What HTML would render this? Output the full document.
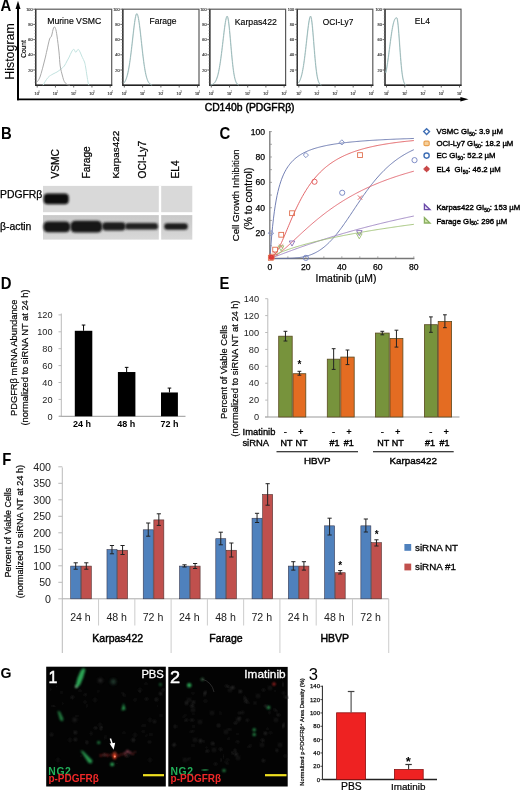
<!DOCTYPE html>
<html><head><meta charset="utf-8"><style>
html,body{margin:0;padding:0;background:#fff;width:520px;height:790px;overflow:hidden}
svg{display:block;filter:blur(0.3px);font-family:"Liberation Sans", sans-serif}
</style></head><body>
<svg width="520" height="790" viewBox="0 0 520 790">
<text transform="translate(0.5 10.8) scale(0.93 1)" font-size="16" font-weight="bold">A</text>
<line x1="18.00" y1="8.00" x2="18.00" y2="100.20" stroke="#000" stroke-width="2"/>
<polygon points="18.00,0.80 15.50,9.00 20.50,9.00" fill="#000"/>
<line x1="17.00" y1="99.30" x2="461.00" y2="99.30" stroke="#000" stroke-width="1.8"/>
<polygon points="468.50,99.30 460.40,97.00 460.40,101.60" fill="#000"/>
<text x="13.80" y="51.50" font-size="12.4" text-anchor="middle" fill="#000" transform="rotate(-90 13.8 51.5)" stroke="#000" stroke-width="0.1">Histogram</text>
<text x="25.80" y="49.00" font-size="6.6" text-anchor="middle" fill="#000" transform="rotate(-90 25.8 49)" stroke="#000" stroke-width="0.15">Count</text>
<rect x="35.70" y="9.20" width="76.00" height="76.10" fill="none" stroke="#5a5a5a" stroke-width="1.2"/>
<line x1="35.20" y1="85.30" x2="112.20" y2="85.30" stroke="#222" stroke-width="1.6"/>
<line x1="35.70" y1="9.20" x2="35.70" y2="85.30" stroke="#333" stroke-width="1.3"/>
<line x1="33.20" y1="9.20" x2="35.70" y2="9.20" stroke="#444" stroke-width="0.8"/>
<text x="32.50" y="10.70" font-size="3.8" text-anchor="end" fill="#333" stroke="#333" stroke-width="0.15">100</text>
<line x1="33.20" y1="24.40" x2="35.70" y2="24.40" stroke="#444" stroke-width="0.8"/>
<text x="32.50" y="25.90" font-size="3.8" text-anchor="end" fill="#333" stroke="#333" stroke-width="0.15">80</text>
<line x1="33.20" y1="39.60" x2="35.70" y2="39.60" stroke="#444" stroke-width="0.8"/>
<text x="32.50" y="41.10" font-size="3.8" text-anchor="end" fill="#333" stroke="#333" stroke-width="0.15">60</text>
<line x1="33.20" y1="54.80" x2="35.70" y2="54.80" stroke="#444" stroke-width="0.8"/>
<text x="32.50" y="56.30" font-size="3.8" text-anchor="end" fill="#333" stroke="#333" stroke-width="0.15">40</text>
<line x1="33.20" y1="70.00" x2="35.70" y2="70.00" stroke="#444" stroke-width="0.8"/>
<text x="32.50" y="71.50" font-size="3.8" text-anchor="end" fill="#333" stroke="#333" stroke-width="0.15">20</text>
<line x1="34.40" y1="9.20" x2="35.70" y2="9.20" stroke="#777" stroke-width="0.5"/>
<line x1="34.40" y1="12.24" x2="35.70" y2="12.24" stroke="#777" stroke-width="0.5"/>
<line x1="34.40" y1="15.28" x2="35.70" y2="15.28" stroke="#777" stroke-width="0.5"/>
<line x1="34.40" y1="18.32" x2="35.70" y2="18.32" stroke="#777" stroke-width="0.5"/>
<line x1="34.40" y1="21.36" x2="35.70" y2="21.36" stroke="#777" stroke-width="0.5"/>
<line x1="34.40" y1="24.40" x2="35.70" y2="24.40" stroke="#777" stroke-width="0.5"/>
<line x1="34.40" y1="27.44" x2="35.70" y2="27.44" stroke="#777" stroke-width="0.5"/>
<line x1="34.40" y1="30.48" x2="35.70" y2="30.48" stroke="#777" stroke-width="0.5"/>
<line x1="34.40" y1="33.52" x2="35.70" y2="33.52" stroke="#777" stroke-width="0.5"/>
<line x1="34.40" y1="36.56" x2="35.70" y2="36.56" stroke="#777" stroke-width="0.5"/>
<line x1="34.40" y1="39.60" x2="35.70" y2="39.60" stroke="#777" stroke-width="0.5"/>
<line x1="34.40" y1="42.64" x2="35.70" y2="42.64" stroke="#777" stroke-width="0.5"/>
<line x1="34.40" y1="45.68" x2="35.70" y2="45.68" stroke="#777" stroke-width="0.5"/>
<line x1="34.40" y1="48.72" x2="35.70" y2="48.72" stroke="#777" stroke-width="0.5"/>
<line x1="34.40" y1="51.76" x2="35.70" y2="51.76" stroke="#777" stroke-width="0.5"/>
<line x1="34.40" y1="54.80" x2="35.70" y2="54.80" stroke="#777" stroke-width="0.5"/>
<line x1="34.40" y1="57.84" x2="35.70" y2="57.84" stroke="#777" stroke-width="0.5"/>
<line x1="34.40" y1="60.88" x2="35.70" y2="60.88" stroke="#777" stroke-width="0.5"/>
<line x1="34.40" y1="63.92" x2="35.70" y2="63.92" stroke="#777" stroke-width="0.5"/>
<line x1="34.40" y1="66.96" x2="35.70" y2="66.96" stroke="#777" stroke-width="0.5"/>
<line x1="34.40" y1="70.00" x2="35.70" y2="70.00" stroke="#777" stroke-width="0.5"/>
<line x1="34.40" y1="73.04" x2="35.70" y2="73.04" stroke="#777" stroke-width="0.5"/>
<line x1="34.40" y1="76.08" x2="35.70" y2="76.08" stroke="#777" stroke-width="0.5"/>
<line x1="34.40" y1="79.12" x2="35.70" y2="79.12" stroke="#777" stroke-width="0.5"/>
<line x1="34.40" y1="82.16" x2="35.70" y2="82.16" stroke="#777" stroke-width="0.5"/>
<line x1="37.20" y1="85.30" x2="37.20" y2="87.50" stroke="#444" stroke-width="0.8"/>
<text x="36.70" y="94.80" font-size="3.8" text-anchor="middle" fill="#333" stroke="#333" stroke-width="0.15">10</text>
<text x="39.00" y="92.50" font-size="3.0" text-anchor="middle" fill="#444">0</text>
<line x1="55.45" y1="85.30" x2="55.45" y2="87.50" stroke="#444" stroke-width="0.8"/>
<text x="54.95" y="94.80" font-size="3.8" text-anchor="middle" fill="#333" stroke="#333" stroke-width="0.15">10</text>
<text x="57.25" y="92.50" font-size="3.0" text-anchor="middle" fill="#444">1</text>
<line x1="73.70" y1="85.30" x2="73.70" y2="87.50" stroke="#444" stroke-width="0.8"/>
<text x="73.20" y="94.80" font-size="3.8" text-anchor="middle" fill="#333" stroke="#333" stroke-width="0.15">10</text>
<text x="75.50" y="92.50" font-size="3.0" text-anchor="middle" fill="#444">2</text>
<line x1="91.95" y1="85.30" x2="91.95" y2="87.50" stroke="#444" stroke-width="0.8"/>
<text x="91.45" y="94.80" font-size="3.8" text-anchor="middle" fill="#333" stroke="#333" stroke-width="0.15">10</text>
<text x="93.75" y="92.50" font-size="3.0" text-anchor="middle" fill="#444">3</text>
<line x1="110.20" y1="85.30" x2="110.20" y2="87.50" stroke="#444" stroke-width="0.8"/>
<text x="109.70" y="94.80" font-size="3.8" text-anchor="middle" fill="#333" stroke="#333" stroke-width="0.15">10</text>
<text x="112.00" y="92.50" font-size="3.0" text-anchor="middle" fill="#444">4</text>
<rect x="122.80" y="9.20" width="76.20" height="76.10" fill="none" stroke="#5a5a5a" stroke-width="1.2"/>
<line x1="122.30" y1="85.30" x2="199.50" y2="85.30" stroke="#222" stroke-width="1.6"/>
<line x1="122.80" y1="9.20" x2="122.80" y2="85.30" stroke="#333" stroke-width="1.3"/>
<line x1="120.30" y1="9.20" x2="122.80" y2="9.20" stroke="#444" stroke-width="0.8"/>
<text x="119.60" y="10.70" font-size="3.8" text-anchor="end" fill="#333" stroke="#333" stroke-width="0.15">100</text>
<line x1="120.30" y1="24.40" x2="122.80" y2="24.40" stroke="#444" stroke-width="0.8"/>
<text x="119.60" y="25.90" font-size="3.8" text-anchor="end" fill="#333" stroke="#333" stroke-width="0.15">80</text>
<line x1="120.30" y1="39.60" x2="122.80" y2="39.60" stroke="#444" stroke-width="0.8"/>
<text x="119.60" y="41.10" font-size="3.8" text-anchor="end" fill="#333" stroke="#333" stroke-width="0.15">60</text>
<line x1="120.30" y1="54.80" x2="122.80" y2="54.80" stroke="#444" stroke-width="0.8"/>
<text x="119.60" y="56.30" font-size="3.8" text-anchor="end" fill="#333" stroke="#333" stroke-width="0.15">40</text>
<line x1="120.30" y1="70.00" x2="122.80" y2="70.00" stroke="#444" stroke-width="0.8"/>
<text x="119.60" y="71.50" font-size="3.8" text-anchor="end" fill="#333" stroke="#333" stroke-width="0.15">20</text>
<line x1="121.50" y1="9.20" x2="122.80" y2="9.20" stroke="#777" stroke-width="0.5"/>
<line x1="121.50" y1="12.24" x2="122.80" y2="12.24" stroke="#777" stroke-width="0.5"/>
<line x1="121.50" y1="15.28" x2="122.80" y2="15.28" stroke="#777" stroke-width="0.5"/>
<line x1="121.50" y1="18.32" x2="122.80" y2="18.32" stroke="#777" stroke-width="0.5"/>
<line x1="121.50" y1="21.36" x2="122.80" y2="21.36" stroke="#777" stroke-width="0.5"/>
<line x1="121.50" y1="24.40" x2="122.80" y2="24.40" stroke="#777" stroke-width="0.5"/>
<line x1="121.50" y1="27.44" x2="122.80" y2="27.44" stroke="#777" stroke-width="0.5"/>
<line x1="121.50" y1="30.48" x2="122.80" y2="30.48" stroke="#777" stroke-width="0.5"/>
<line x1="121.50" y1="33.52" x2="122.80" y2="33.52" stroke="#777" stroke-width="0.5"/>
<line x1="121.50" y1="36.56" x2="122.80" y2="36.56" stroke="#777" stroke-width="0.5"/>
<line x1="121.50" y1="39.60" x2="122.80" y2="39.60" stroke="#777" stroke-width="0.5"/>
<line x1="121.50" y1="42.64" x2="122.80" y2="42.64" stroke="#777" stroke-width="0.5"/>
<line x1="121.50" y1="45.68" x2="122.80" y2="45.68" stroke="#777" stroke-width="0.5"/>
<line x1="121.50" y1="48.72" x2="122.80" y2="48.72" stroke="#777" stroke-width="0.5"/>
<line x1="121.50" y1="51.76" x2="122.80" y2="51.76" stroke="#777" stroke-width="0.5"/>
<line x1="121.50" y1="54.80" x2="122.80" y2="54.80" stroke="#777" stroke-width="0.5"/>
<line x1="121.50" y1="57.84" x2="122.80" y2="57.84" stroke="#777" stroke-width="0.5"/>
<line x1="121.50" y1="60.88" x2="122.80" y2="60.88" stroke="#777" stroke-width="0.5"/>
<line x1="121.50" y1="63.92" x2="122.80" y2="63.92" stroke="#777" stroke-width="0.5"/>
<line x1="121.50" y1="66.96" x2="122.80" y2="66.96" stroke="#777" stroke-width="0.5"/>
<line x1="121.50" y1="70.00" x2="122.80" y2="70.00" stroke="#777" stroke-width="0.5"/>
<line x1="121.50" y1="73.04" x2="122.80" y2="73.04" stroke="#777" stroke-width="0.5"/>
<line x1="121.50" y1="76.08" x2="122.80" y2="76.08" stroke="#777" stroke-width="0.5"/>
<line x1="121.50" y1="79.12" x2="122.80" y2="79.12" stroke="#777" stroke-width="0.5"/>
<line x1="121.50" y1="82.16" x2="122.80" y2="82.16" stroke="#777" stroke-width="0.5"/>
<line x1="124.30" y1="85.30" x2="124.30" y2="87.50" stroke="#444" stroke-width="0.8"/>
<text x="123.80" y="94.80" font-size="3.8" text-anchor="middle" fill="#333" stroke="#333" stroke-width="0.15">10</text>
<text x="126.10" y="92.50" font-size="3.0" text-anchor="middle" fill="#444">0</text>
<line x1="142.60" y1="85.30" x2="142.60" y2="87.50" stroke="#444" stroke-width="0.8"/>
<text x="142.10" y="94.80" font-size="3.8" text-anchor="middle" fill="#333" stroke="#333" stroke-width="0.15">10</text>
<text x="144.40" y="92.50" font-size="3.0" text-anchor="middle" fill="#444">1</text>
<line x1="160.90" y1="85.30" x2="160.90" y2="87.50" stroke="#444" stroke-width="0.8"/>
<text x="160.40" y="94.80" font-size="3.8" text-anchor="middle" fill="#333" stroke="#333" stroke-width="0.15">10</text>
<text x="162.70" y="92.50" font-size="3.0" text-anchor="middle" fill="#444">2</text>
<line x1="179.20" y1="85.30" x2="179.20" y2="87.50" stroke="#444" stroke-width="0.8"/>
<text x="178.70" y="94.80" font-size="3.8" text-anchor="middle" fill="#333" stroke="#333" stroke-width="0.15">10</text>
<text x="181.00" y="92.50" font-size="3.0" text-anchor="middle" fill="#444">3</text>
<line x1="197.50" y1="85.30" x2="197.50" y2="87.50" stroke="#444" stroke-width="0.8"/>
<text x="197.00" y="94.80" font-size="3.8" text-anchor="middle" fill="#333" stroke="#333" stroke-width="0.15">10</text>
<text x="199.30" y="92.50" font-size="3.0" text-anchor="middle" fill="#444">4</text>
<rect x="209.80" y="9.20" width="75.80" height="76.10" fill="none" stroke="#5a5a5a" stroke-width="1.2"/>
<line x1="209.30" y1="85.30" x2="286.10" y2="85.30" stroke="#222" stroke-width="1.6"/>
<line x1="209.80" y1="9.20" x2="209.80" y2="85.30" stroke="#333" stroke-width="1.3"/>
<line x1="207.30" y1="9.20" x2="209.80" y2="9.20" stroke="#444" stroke-width="0.8"/>
<text x="206.60" y="10.70" font-size="3.8" text-anchor="end" fill="#333" stroke="#333" stroke-width="0.15">100</text>
<line x1="207.30" y1="24.40" x2="209.80" y2="24.40" stroke="#444" stroke-width="0.8"/>
<text x="206.60" y="25.90" font-size="3.8" text-anchor="end" fill="#333" stroke="#333" stroke-width="0.15">80</text>
<line x1="207.30" y1="39.60" x2="209.80" y2="39.60" stroke="#444" stroke-width="0.8"/>
<text x="206.60" y="41.10" font-size="3.8" text-anchor="end" fill="#333" stroke="#333" stroke-width="0.15">60</text>
<line x1="207.30" y1="54.80" x2="209.80" y2="54.80" stroke="#444" stroke-width="0.8"/>
<text x="206.60" y="56.30" font-size="3.8" text-anchor="end" fill="#333" stroke="#333" stroke-width="0.15">40</text>
<line x1="207.30" y1="70.00" x2="209.80" y2="70.00" stroke="#444" stroke-width="0.8"/>
<text x="206.60" y="71.50" font-size="3.8" text-anchor="end" fill="#333" stroke="#333" stroke-width="0.15">20</text>
<line x1="208.50" y1="9.20" x2="209.80" y2="9.20" stroke="#777" stroke-width="0.5"/>
<line x1="208.50" y1="12.24" x2="209.80" y2="12.24" stroke="#777" stroke-width="0.5"/>
<line x1="208.50" y1="15.28" x2="209.80" y2="15.28" stroke="#777" stroke-width="0.5"/>
<line x1="208.50" y1="18.32" x2="209.80" y2="18.32" stroke="#777" stroke-width="0.5"/>
<line x1="208.50" y1="21.36" x2="209.80" y2="21.36" stroke="#777" stroke-width="0.5"/>
<line x1="208.50" y1="24.40" x2="209.80" y2="24.40" stroke="#777" stroke-width="0.5"/>
<line x1="208.50" y1="27.44" x2="209.80" y2="27.44" stroke="#777" stroke-width="0.5"/>
<line x1="208.50" y1="30.48" x2="209.80" y2="30.48" stroke="#777" stroke-width="0.5"/>
<line x1="208.50" y1="33.52" x2="209.80" y2="33.52" stroke="#777" stroke-width="0.5"/>
<line x1="208.50" y1="36.56" x2="209.80" y2="36.56" stroke="#777" stroke-width="0.5"/>
<line x1="208.50" y1="39.60" x2="209.80" y2="39.60" stroke="#777" stroke-width="0.5"/>
<line x1="208.50" y1="42.64" x2="209.80" y2="42.64" stroke="#777" stroke-width="0.5"/>
<line x1="208.50" y1="45.68" x2="209.80" y2="45.68" stroke="#777" stroke-width="0.5"/>
<line x1="208.50" y1="48.72" x2="209.80" y2="48.72" stroke="#777" stroke-width="0.5"/>
<line x1="208.50" y1="51.76" x2="209.80" y2="51.76" stroke="#777" stroke-width="0.5"/>
<line x1="208.50" y1="54.80" x2="209.80" y2="54.80" stroke="#777" stroke-width="0.5"/>
<line x1="208.50" y1="57.84" x2="209.80" y2="57.84" stroke="#777" stroke-width="0.5"/>
<line x1="208.50" y1="60.88" x2="209.80" y2="60.88" stroke="#777" stroke-width="0.5"/>
<line x1="208.50" y1="63.92" x2="209.80" y2="63.92" stroke="#777" stroke-width="0.5"/>
<line x1="208.50" y1="66.96" x2="209.80" y2="66.96" stroke="#777" stroke-width="0.5"/>
<line x1="208.50" y1="70.00" x2="209.80" y2="70.00" stroke="#777" stroke-width="0.5"/>
<line x1="208.50" y1="73.04" x2="209.80" y2="73.04" stroke="#777" stroke-width="0.5"/>
<line x1="208.50" y1="76.08" x2="209.80" y2="76.08" stroke="#777" stroke-width="0.5"/>
<line x1="208.50" y1="79.12" x2="209.80" y2="79.12" stroke="#777" stroke-width="0.5"/>
<line x1="208.50" y1="82.16" x2="209.80" y2="82.16" stroke="#777" stroke-width="0.5"/>
<line x1="211.30" y1="85.30" x2="211.30" y2="87.50" stroke="#444" stroke-width="0.8"/>
<text x="210.80" y="94.80" font-size="3.8" text-anchor="middle" fill="#333" stroke="#333" stroke-width="0.15">10</text>
<text x="213.10" y="92.50" font-size="3.0" text-anchor="middle" fill="#444">0</text>
<line x1="229.50" y1="85.30" x2="229.50" y2="87.50" stroke="#444" stroke-width="0.8"/>
<text x="229.00" y="94.80" font-size="3.8" text-anchor="middle" fill="#333" stroke="#333" stroke-width="0.15">10</text>
<text x="231.30" y="92.50" font-size="3.0" text-anchor="middle" fill="#444">1</text>
<line x1="247.70" y1="85.30" x2="247.70" y2="87.50" stroke="#444" stroke-width="0.8"/>
<text x="247.20" y="94.80" font-size="3.8" text-anchor="middle" fill="#333" stroke="#333" stroke-width="0.15">10</text>
<text x="249.50" y="92.50" font-size="3.0" text-anchor="middle" fill="#444">2</text>
<line x1="265.90" y1="85.30" x2="265.90" y2="87.50" stroke="#444" stroke-width="0.8"/>
<text x="265.40" y="94.80" font-size="3.8" text-anchor="middle" fill="#333" stroke="#333" stroke-width="0.15">10</text>
<text x="267.70" y="92.50" font-size="3.0" text-anchor="middle" fill="#444">3</text>
<line x1="284.10" y1="85.30" x2="284.10" y2="87.50" stroke="#444" stroke-width="0.8"/>
<text x="283.60" y="94.80" font-size="3.8" text-anchor="middle" fill="#333" stroke="#333" stroke-width="0.15">10</text>
<text x="285.90" y="92.50" font-size="3.0" text-anchor="middle" fill="#444">4</text>
<rect x="297.30" y="9.20" width="75.50" height="76.10" fill="none" stroke="#5a5a5a" stroke-width="1.2"/>
<line x1="296.80" y1="85.30" x2="373.30" y2="85.30" stroke="#222" stroke-width="1.6"/>
<line x1="297.30" y1="9.20" x2="297.30" y2="85.30" stroke="#333" stroke-width="1.3"/>
<line x1="294.80" y1="9.20" x2="297.30" y2="9.20" stroke="#444" stroke-width="0.8"/>
<text x="294.10" y="10.70" font-size="3.8" text-anchor="end" fill="#333" stroke="#333" stroke-width="0.15">100</text>
<line x1="294.80" y1="24.40" x2="297.30" y2="24.40" stroke="#444" stroke-width="0.8"/>
<text x="294.10" y="25.90" font-size="3.8" text-anchor="end" fill="#333" stroke="#333" stroke-width="0.15">80</text>
<line x1="294.80" y1="39.60" x2="297.30" y2="39.60" stroke="#444" stroke-width="0.8"/>
<text x="294.10" y="41.10" font-size="3.8" text-anchor="end" fill="#333" stroke="#333" stroke-width="0.15">60</text>
<line x1="294.80" y1="54.80" x2="297.30" y2="54.80" stroke="#444" stroke-width="0.8"/>
<text x="294.10" y="56.30" font-size="3.8" text-anchor="end" fill="#333" stroke="#333" stroke-width="0.15">40</text>
<line x1="294.80" y1="70.00" x2="297.30" y2="70.00" stroke="#444" stroke-width="0.8"/>
<text x="294.10" y="71.50" font-size="3.8" text-anchor="end" fill="#333" stroke="#333" stroke-width="0.15">20</text>
<line x1="296.00" y1="9.20" x2="297.30" y2="9.20" stroke="#777" stroke-width="0.5"/>
<line x1="296.00" y1="12.24" x2="297.30" y2="12.24" stroke="#777" stroke-width="0.5"/>
<line x1="296.00" y1="15.28" x2="297.30" y2="15.28" stroke="#777" stroke-width="0.5"/>
<line x1="296.00" y1="18.32" x2="297.30" y2="18.32" stroke="#777" stroke-width="0.5"/>
<line x1="296.00" y1="21.36" x2="297.30" y2="21.36" stroke="#777" stroke-width="0.5"/>
<line x1="296.00" y1="24.40" x2="297.30" y2="24.40" stroke="#777" stroke-width="0.5"/>
<line x1="296.00" y1="27.44" x2="297.30" y2="27.44" stroke="#777" stroke-width="0.5"/>
<line x1="296.00" y1="30.48" x2="297.30" y2="30.48" stroke="#777" stroke-width="0.5"/>
<line x1="296.00" y1="33.52" x2="297.30" y2="33.52" stroke="#777" stroke-width="0.5"/>
<line x1="296.00" y1="36.56" x2="297.30" y2="36.56" stroke="#777" stroke-width="0.5"/>
<line x1="296.00" y1="39.60" x2="297.30" y2="39.60" stroke="#777" stroke-width="0.5"/>
<line x1="296.00" y1="42.64" x2="297.30" y2="42.64" stroke="#777" stroke-width="0.5"/>
<line x1="296.00" y1="45.68" x2="297.30" y2="45.68" stroke="#777" stroke-width="0.5"/>
<line x1="296.00" y1="48.72" x2="297.30" y2="48.72" stroke="#777" stroke-width="0.5"/>
<line x1="296.00" y1="51.76" x2="297.30" y2="51.76" stroke="#777" stroke-width="0.5"/>
<line x1="296.00" y1="54.80" x2="297.30" y2="54.80" stroke="#777" stroke-width="0.5"/>
<line x1="296.00" y1="57.84" x2="297.30" y2="57.84" stroke="#777" stroke-width="0.5"/>
<line x1="296.00" y1="60.88" x2="297.30" y2="60.88" stroke="#777" stroke-width="0.5"/>
<line x1="296.00" y1="63.92" x2="297.30" y2="63.92" stroke="#777" stroke-width="0.5"/>
<line x1="296.00" y1="66.96" x2="297.30" y2="66.96" stroke="#777" stroke-width="0.5"/>
<line x1="296.00" y1="70.00" x2="297.30" y2="70.00" stroke="#777" stroke-width="0.5"/>
<line x1="296.00" y1="73.04" x2="297.30" y2="73.04" stroke="#777" stroke-width="0.5"/>
<line x1="296.00" y1="76.08" x2="297.30" y2="76.08" stroke="#777" stroke-width="0.5"/>
<line x1="296.00" y1="79.12" x2="297.30" y2="79.12" stroke="#777" stroke-width="0.5"/>
<line x1="296.00" y1="82.16" x2="297.30" y2="82.16" stroke="#777" stroke-width="0.5"/>
<line x1="298.80" y1="85.30" x2="298.80" y2="87.50" stroke="#444" stroke-width="0.8"/>
<text x="298.30" y="94.80" font-size="3.8" text-anchor="middle" fill="#333" stroke="#333" stroke-width="0.15">10</text>
<text x="300.60" y="92.50" font-size="3.0" text-anchor="middle" fill="#444">0</text>
<line x1="316.93" y1="85.30" x2="316.93" y2="87.50" stroke="#444" stroke-width="0.8"/>
<text x="316.43" y="94.80" font-size="3.8" text-anchor="middle" fill="#333" stroke="#333" stroke-width="0.15">10</text>
<text x="318.73" y="92.50" font-size="3.0" text-anchor="middle" fill="#444">1</text>
<line x1="335.05" y1="85.30" x2="335.05" y2="87.50" stroke="#444" stroke-width="0.8"/>
<text x="334.55" y="94.80" font-size="3.8" text-anchor="middle" fill="#333" stroke="#333" stroke-width="0.15">10</text>
<text x="336.85" y="92.50" font-size="3.0" text-anchor="middle" fill="#444">2</text>
<line x1="353.18" y1="85.30" x2="353.18" y2="87.50" stroke="#444" stroke-width="0.8"/>
<text x="352.68" y="94.80" font-size="3.8" text-anchor="middle" fill="#333" stroke="#333" stroke-width="0.15">10</text>
<text x="354.98" y="92.50" font-size="3.0" text-anchor="middle" fill="#444">3</text>
<line x1="371.30" y1="85.30" x2="371.30" y2="87.50" stroke="#444" stroke-width="0.8"/>
<text x="370.80" y="94.80" font-size="3.8" text-anchor="middle" fill="#333" stroke="#333" stroke-width="0.15">10</text>
<text x="373.10" y="92.50" font-size="3.0" text-anchor="middle" fill="#444">4</text>
<rect x="385.00" y="9.20" width="76.00" height="76.10" fill="none" stroke="#5a5a5a" stroke-width="1.2"/>
<line x1="384.50" y1="85.30" x2="461.50" y2="85.30" stroke="#222" stroke-width="1.6"/>
<line x1="385.00" y1="9.20" x2="385.00" y2="85.30" stroke="#333" stroke-width="1.3"/>
<line x1="382.50" y1="9.20" x2="385.00" y2="9.20" stroke="#444" stroke-width="0.8"/>
<text x="381.80" y="10.70" font-size="3.8" text-anchor="end" fill="#333" stroke="#333" stroke-width="0.15">100</text>
<line x1="382.50" y1="24.40" x2="385.00" y2="24.40" stroke="#444" stroke-width="0.8"/>
<text x="381.80" y="25.90" font-size="3.8" text-anchor="end" fill="#333" stroke="#333" stroke-width="0.15">80</text>
<line x1="382.50" y1="39.60" x2="385.00" y2="39.60" stroke="#444" stroke-width="0.8"/>
<text x="381.80" y="41.10" font-size="3.8" text-anchor="end" fill="#333" stroke="#333" stroke-width="0.15">60</text>
<line x1="382.50" y1="54.80" x2="385.00" y2="54.80" stroke="#444" stroke-width="0.8"/>
<text x="381.80" y="56.30" font-size="3.8" text-anchor="end" fill="#333" stroke="#333" stroke-width="0.15">40</text>
<line x1="382.50" y1="70.00" x2="385.00" y2="70.00" stroke="#444" stroke-width="0.8"/>
<text x="381.80" y="71.50" font-size="3.8" text-anchor="end" fill="#333" stroke="#333" stroke-width="0.15">20</text>
<line x1="383.70" y1="9.20" x2="385.00" y2="9.20" stroke="#777" stroke-width="0.5"/>
<line x1="383.70" y1="12.24" x2="385.00" y2="12.24" stroke="#777" stroke-width="0.5"/>
<line x1="383.70" y1="15.28" x2="385.00" y2="15.28" stroke="#777" stroke-width="0.5"/>
<line x1="383.70" y1="18.32" x2="385.00" y2="18.32" stroke="#777" stroke-width="0.5"/>
<line x1="383.70" y1="21.36" x2="385.00" y2="21.36" stroke="#777" stroke-width="0.5"/>
<line x1="383.70" y1="24.40" x2="385.00" y2="24.40" stroke="#777" stroke-width="0.5"/>
<line x1="383.70" y1="27.44" x2="385.00" y2="27.44" stroke="#777" stroke-width="0.5"/>
<line x1="383.70" y1="30.48" x2="385.00" y2="30.48" stroke="#777" stroke-width="0.5"/>
<line x1="383.70" y1="33.52" x2="385.00" y2="33.52" stroke="#777" stroke-width="0.5"/>
<line x1="383.70" y1="36.56" x2="385.00" y2="36.56" stroke="#777" stroke-width="0.5"/>
<line x1="383.70" y1="39.60" x2="385.00" y2="39.60" stroke="#777" stroke-width="0.5"/>
<line x1="383.70" y1="42.64" x2="385.00" y2="42.64" stroke="#777" stroke-width="0.5"/>
<line x1="383.70" y1="45.68" x2="385.00" y2="45.68" stroke="#777" stroke-width="0.5"/>
<line x1="383.70" y1="48.72" x2="385.00" y2="48.72" stroke="#777" stroke-width="0.5"/>
<line x1="383.70" y1="51.76" x2="385.00" y2="51.76" stroke="#777" stroke-width="0.5"/>
<line x1="383.70" y1="54.80" x2="385.00" y2="54.80" stroke="#777" stroke-width="0.5"/>
<line x1="383.70" y1="57.84" x2="385.00" y2="57.84" stroke="#777" stroke-width="0.5"/>
<line x1="383.70" y1="60.88" x2="385.00" y2="60.88" stroke="#777" stroke-width="0.5"/>
<line x1="383.70" y1="63.92" x2="385.00" y2="63.92" stroke="#777" stroke-width="0.5"/>
<line x1="383.70" y1="66.96" x2="385.00" y2="66.96" stroke="#777" stroke-width="0.5"/>
<line x1="383.70" y1="70.00" x2="385.00" y2="70.00" stroke="#777" stroke-width="0.5"/>
<line x1="383.70" y1="73.04" x2="385.00" y2="73.04" stroke="#777" stroke-width="0.5"/>
<line x1="383.70" y1="76.08" x2="385.00" y2="76.08" stroke="#777" stroke-width="0.5"/>
<line x1="383.70" y1="79.12" x2="385.00" y2="79.12" stroke="#777" stroke-width="0.5"/>
<line x1="383.70" y1="82.16" x2="385.00" y2="82.16" stroke="#777" stroke-width="0.5"/>
<line x1="386.50" y1="85.30" x2="386.50" y2="87.50" stroke="#444" stroke-width="0.8"/>
<text x="386.00" y="94.80" font-size="3.8" text-anchor="middle" fill="#333" stroke="#333" stroke-width="0.15">10</text>
<text x="388.30" y="92.50" font-size="3.0" text-anchor="middle" fill="#444">0</text>
<line x1="404.75" y1="85.30" x2="404.75" y2="87.50" stroke="#444" stroke-width="0.8"/>
<text x="404.25" y="94.80" font-size="3.8" text-anchor="middle" fill="#333" stroke="#333" stroke-width="0.15">10</text>
<text x="406.55" y="92.50" font-size="3.0" text-anchor="middle" fill="#444">1</text>
<line x1="423.00" y1="85.30" x2="423.00" y2="87.50" stroke="#444" stroke-width="0.8"/>
<text x="422.50" y="94.80" font-size="3.8" text-anchor="middle" fill="#333" stroke="#333" stroke-width="0.15">10</text>
<text x="424.80" y="92.50" font-size="3.0" text-anchor="middle" fill="#444">2</text>
<line x1="441.25" y1="85.30" x2="441.25" y2="87.50" stroke="#444" stroke-width="0.8"/>
<text x="440.75" y="94.80" font-size="3.8" text-anchor="middle" fill="#333" stroke="#333" stroke-width="0.15">10</text>
<text x="443.05" y="92.50" font-size="3.0" text-anchor="middle" fill="#444">3</text>
<line x1="459.50" y1="85.30" x2="459.50" y2="87.50" stroke="#444" stroke-width="0.8"/>
<text x="459.00" y="94.80" font-size="3.8" text-anchor="middle" fill="#333" stroke="#333" stroke-width="0.15">10</text>
<text x="461.30" y="92.50" font-size="3.0" text-anchor="middle" fill="#444">4</text>
<text x="74.20" y="24.20" font-size="8.7" text-anchor="middle" fill="#000" stroke="#000" stroke-width="0.15">Murine VSMC</text>
<text x="163.00" y="24.40" font-size="8.5" text-anchor="middle" fill="#000" stroke="#000" stroke-width="0.15">Farage</text>
<text x="255.80" y="24.60" font-size="8.7" text-anchor="middle" fill="#000" stroke="#000" stroke-width="0.15">Karpas422</text>
<text x="338.10" y="24.60" font-size="8.3" text-anchor="middle" fill="#000" stroke="#000" stroke-width="0.15">OCI-Ly7</text>
<text x="422.30" y="24.40" font-size="8.5" text-anchor="middle" fill="#000" stroke="#000" stroke-width="0.15">EL4</text>
<text x="249.60" y="110.80" font-size="10.35" text-anchor="middle" fill="#000" stroke="#000" stroke-width="0.45">CD140b (PDGFR&#946;)</text>
<path d="M43.00,85.20 C43.83,83.92 46.33,79.37 48.00,77.50 C49.67,75.63 51.50,74.92 53.00,74.00 C54.50,73.08 55.67,72.83 57.00,72.00 C58.33,71.17 59.78,70.00 61.00,69.00 C62.22,68.00 63.30,67.33 64.30,66.00 C65.30,64.67 66.18,62.50 67.00,61.00 C67.82,59.50 68.45,58.50 69.20,57.00 C69.95,55.50 70.73,53.30 71.50,52.00 C72.27,50.70 73.08,49.13 73.80,49.20 C74.52,49.27 75.07,52.38 75.80,52.40 C76.53,52.42 77.42,49.20 78.20,49.30 C78.98,49.40 79.82,51.67 80.50,53.00 C81.18,54.33 81.63,55.80 82.30,57.30 C82.97,58.80 83.95,60.38 84.50,62.00 C85.05,63.62 85.18,64.67 85.60,67.00 C86.02,69.33 86.60,73.50 87.00,76.00 C87.40,78.50 87.70,80.47 88.00,82.00 C88.30,83.53 88.67,84.67 88.80,85.20" fill="none" stroke="#c2e2df" stroke-width="1.0" stroke-linejoin="round"/>
<path d="M36.50,82.50 C37.08,81.58 38.63,80.75 40.00,77.00 C41.37,73.25 43.53,64.50 44.70,60.00 C45.87,55.50 46.18,53.50 47.00,50.00 C47.82,46.50 48.85,41.33 49.60,39.00 C50.35,36.67 50.82,37.92 51.50,36.00 C52.18,34.08 53.03,28.75 53.70,27.50 C54.37,26.25 54.95,27.08 55.50,28.50 C56.05,29.92 56.42,32.08 57.00,36.00 C57.58,39.92 58.47,47.00 59.00,52.00 C59.53,57.00 59.62,62.00 60.20,66.00 C60.78,70.00 61.82,73.42 62.50,76.00 C63.18,78.58 63.55,80.08 64.30,81.50 C65.05,82.92 66.05,83.88 67.00,84.50 C67.95,85.12 69.50,85.08 70.00,85.20" fill="none" stroke="#a0a0a0" stroke-width="0.9" stroke-linejoin="round"/>
<polyline points="123.65,83.12 124.00,82.72 124.35,82.26 124.70,81.73 125.05,81.12 125.40,80.43 125.75,79.64 126.10,78.76 126.45,77.76 126.80,76.65 127.15,75.41 127.50,74.04 127.85,72.52 128.20,70.86 128.55,69.05 128.90,67.09 129.25,64.97 129.60,62.70 129.95,60.28 130.30,57.72 130.65,55.02 131.00,52.21 131.35,49.28 131.70,46.27 132.05,43.20 132.40,40.09 132.75,36.98 133.10,33.89 133.45,30.86 133.80,27.93 134.15,25.15 134.50,22.56 134.85,20.20 135.20,18.12 135.55,16.36 135.90,15.00 136.25,14.07 136.60,13.70 136.95,13.90 137.30,14.49 137.65,15.46 138.00,16.81 138.35,18.50 138.70,20.50 139.05,22.80 139.40,25.34 139.75,28.10 140.10,31.04 140.45,34.11 140.80,37.27 141.15,40.49 141.50,43.72 141.85,46.93 142.20,50.09 142.55,53.17 142.90,56.14 143.25,58.99 143.60,61.68 143.95,64.22 144.30,66.59 144.65,68.78 145.00,70.80 145.35,72.64 145.70,74.31 146.05,75.81 146.40,77.16 146.75,78.35 147.10,79.40 147.45,80.31 147.80,81.11 148.15,81.80 148.50,82.40 148.85,82.90 149.20,83.33 149.55,83.69 149.90,83.99 150.25,84.24 150.60,84.45 150.95,84.62 151.30,84.76 151.65,84.88 152.00,84.97" fill="none" stroke="#a6cccc" stroke-width="1.0" stroke-linejoin="round"/>
<polyline points="123.95,83.12 124.30,82.72 124.65,82.26 125.00,81.73 125.35,81.12 125.70,80.43 126.05,79.64 126.40,78.76 126.75,77.76 127.10,76.65 127.45,75.41 127.80,74.04 128.15,72.52 128.50,70.86 128.85,69.05 129.20,67.09 129.55,64.97 129.90,62.70 130.25,60.28 130.60,57.72 130.95,55.02 131.30,52.21 131.65,49.28 132.00,46.27 132.35,43.20 132.70,40.09 133.05,36.98 133.40,33.89 133.75,30.86 134.10,27.93 134.45,25.15 134.80,22.56 135.15,20.20 135.50,18.12 135.85,16.36 136.20,15.00 136.55,14.07 136.90,13.70 137.25,13.90 137.60,14.49 137.95,15.46 138.30,16.81 138.65,18.50 139.00,20.50 139.35,22.80 139.70,25.34 140.05,28.10 140.40,31.04 140.75,34.11 141.10,37.27 141.45,40.49 141.80,43.72 142.15,46.93 142.50,50.09 142.85,53.17 143.20,56.14 143.55,58.99 143.90,61.68 144.25,64.22 144.60,66.59 144.95,68.78 145.30,70.80 145.65,72.64 146.00,74.31 146.35,75.81 146.70,77.16 147.05,78.35 147.40,79.40 147.75,80.31 148.10,81.11 148.45,81.80 148.80,82.40 149.15,82.90 149.50,83.33 149.85,83.69 150.20,83.99 150.55,84.24 150.90,84.45 151.25,84.62 151.60,84.76 151.95,84.88 152.30,84.97" fill="none" stroke="#8a9a9a" stroke-width="0.6" stroke-linejoin="round" opacity="0.7"/>
<polyline points="210.55,84.98 210.90,84.91 211.25,84.82 211.60,84.71 211.95,84.59 212.30,84.44 212.65,84.26 213.00,84.05 213.35,83.81 213.70,83.52 214.05,83.19 214.40,82.81 214.75,82.36 215.10,81.85 215.45,81.27 215.80,80.60 216.15,79.84 216.50,78.99 216.85,78.02 217.20,76.95 217.55,75.75 217.90,74.43 218.25,72.97 218.60,71.37 218.95,69.62 219.30,67.73 219.65,65.68 220.00,63.49 220.35,61.16 220.70,58.68 221.05,56.08 221.40,53.36 221.75,50.54 222.10,47.64 222.45,44.67 222.80,41.67 223.15,38.66 223.50,35.68 223.85,32.76 224.20,29.94 224.55,27.25 224.90,24.75 225.25,22.47 225.60,20.46 225.95,18.77 226.30,17.45 226.65,16.56 227.00,16.20 227.35,16.53 227.70,17.49 228.05,19.08 228.40,21.23 228.75,23.90 229.10,27.01 229.45,30.48 229.80,34.24 230.15,38.18 230.50,42.22 230.85,46.29 231.20,50.31 231.55,54.21 231.90,57.94 232.25,61.44 232.60,64.69 232.95,67.67 233.30,70.36 233.65,72.75 234.00,74.87 234.35,76.70 234.70,78.28 235.05,79.63 235.40,80.76 235.75,81.70 236.10,82.47 236.45,83.10 236.80,83.60 237.15,84.00 237.50,84.32 237.85,84.56 238.20,84.75 238.55,84.90" fill="none" stroke="#a6cccc" stroke-width="1.0" stroke-linejoin="round"/>
<polyline points="210.85,84.98 211.20,84.91 211.55,84.82 211.90,84.71 212.25,84.59 212.60,84.44 212.95,84.26 213.30,84.05 213.65,83.81 214.00,83.52 214.35,83.19 214.70,82.81 215.05,82.36 215.40,81.85 215.75,81.27 216.10,80.60 216.45,79.84 216.80,78.99 217.15,78.02 217.50,76.95 217.85,75.75 218.20,74.43 218.55,72.97 218.90,71.37 219.25,69.62 219.60,67.73 219.95,65.68 220.30,63.49 220.65,61.16 221.00,58.68 221.35,56.08 221.70,53.36 222.05,50.54 222.40,47.64 222.75,44.67 223.10,41.67 223.45,38.66 223.80,35.68 224.15,32.76 224.50,29.94 224.85,27.25 225.20,24.75 225.55,22.47 225.90,20.46 226.25,18.77 226.60,17.45 226.95,16.56 227.30,16.20 227.65,16.53 228.00,17.49 228.35,19.08 228.70,21.23 229.05,23.90 229.40,27.01 229.75,30.48 230.10,34.24 230.45,38.18 230.80,42.22 231.15,46.29 231.50,50.31 231.85,54.21 232.20,57.94 232.55,61.44 232.90,64.69 233.25,67.67 233.60,70.36 233.95,72.75 234.30,74.87 234.65,76.70 235.00,78.28 235.35,79.63 235.70,80.76 236.05,81.70 236.40,82.47 236.75,83.10 237.10,83.60 237.45,84.00 237.80,84.32 238.15,84.56 238.50,84.75 238.85,84.90" fill="none" stroke="#8a9a9a" stroke-width="0.6" stroke-linejoin="round" opacity="0.7"/>
<polyline points="298.15,83.07 298.50,82.65 298.85,82.15 299.20,81.58 299.55,80.93 299.90,80.18 300.25,79.32 300.60,78.36 300.95,77.27 301.30,76.05 301.65,74.69 302.00,73.18 302.35,71.53 302.70,69.71 303.05,67.73 303.40,65.58 303.75,63.28 304.10,60.81 304.45,58.20 304.80,55.44 305.15,52.57 305.50,49.58 305.85,46.51 306.20,43.39 306.55,40.24 306.90,37.10 307.25,34.00 307.60,31.00 307.95,28.13 308.30,25.44 308.65,22.99 309.00,20.82 309.35,18.99 309.70,17.56 310.05,16.59 310.40,16.20 310.75,16.59 311.10,17.74 311.45,19.61 311.80,22.15 312.15,25.26 312.50,28.87 312.85,32.84 313.20,37.09 313.55,41.49 313.90,45.93 314.25,50.31 314.60,54.56 314.95,58.59 315.30,62.35 315.65,65.81 316.00,68.93 316.35,71.70 316.70,74.13 317.05,76.23 317.40,78.02 317.75,79.52 318.10,80.76 318.45,81.77 318.80,82.59 319.15,83.24 319.50,83.76 319.85,84.16 320.20,84.46 320.55,84.69 320.90,84.86 321.25,84.99" fill="none" stroke="#a6cccc" stroke-width="1.0" stroke-linejoin="round"/>
<polyline points="298.45,83.07 298.80,82.65 299.15,82.15 299.50,81.58 299.85,80.93 300.20,80.18 300.55,79.32 300.90,78.36 301.25,77.27 301.60,76.05 301.95,74.69 302.30,73.18 302.65,71.53 303.00,69.71 303.35,67.73 303.70,65.58 304.05,63.28 304.40,60.81 304.75,58.20 305.10,55.44 305.45,52.57 305.80,49.58 306.15,46.51 306.50,43.39 306.85,40.24 307.20,37.10 307.55,34.00 307.90,31.00 308.25,28.13 308.60,25.44 308.95,22.99 309.30,20.82 309.65,18.99 310.00,17.56 310.35,16.59 310.70,16.20 311.05,16.59 311.40,17.74 311.75,19.61 312.10,22.15 312.45,25.26 312.80,28.87 313.15,32.84 313.50,37.09 313.85,41.49 314.20,45.93 314.55,50.31 314.90,54.56 315.25,58.59 315.60,62.35 315.95,65.81 316.30,68.93 316.65,71.70 317.00,74.13 317.35,76.23 317.70,78.02 318.05,79.52 318.40,80.76 318.75,81.77 319.10,82.59 319.45,83.24 319.80,83.76 320.15,84.16 320.50,84.46 320.85,84.69 321.20,84.86 321.55,84.99" fill="none" stroke="#8a9a9a" stroke-width="0.6" stroke-linejoin="round" opacity="0.7"/>
<polyline points="385.75,72.73 386.10,70.96 386.45,69.03 386.80,66.97 387.15,64.77 387.50,62.45 387.85,60.01 388.20,57.49 388.55,54.88 388.90,52.22 389.25,49.53 389.60,46.82 389.95,44.13 390.30,41.47 390.65,38.88 391.00,36.37 391.35,33.97 391.70,31.69 392.05,29.56 392.40,27.59 392.75,25.80 393.10,24.18 393.45,22.76 393.80,21.53 394.15,20.49 394.50,19.64 394.85,18.98 395.20,18.48 395.55,18.13 395.90,17.92 396.25,17.82 396.60,17.80 396.95,18.29 397.30,19.74 397.65,22.08 398.00,25.22 398.35,29.04 398.70,33.37 399.05,38.06 399.40,42.95 399.75,47.88 400.10,52.72 400.45,57.34 400.80,61.65 401.15,65.59 401.50,69.11 401.85,72.19 402.20,74.84 402.55,77.07 402.90,78.92 403.25,80.43 403.60,81.63 403.95,82.58 404.30,83.31 404.65,83.87 405.00,84.28 405.35,84.59 405.70,84.81 406.05,84.97" fill="none" stroke="#a6cccc" stroke-width="1.0" stroke-linejoin="round"/>
<polyline points="386.05,72.73 386.40,70.96 386.75,69.03 387.10,66.97 387.45,64.77 387.80,62.45 388.15,60.01 388.50,57.49 388.85,54.88 389.20,52.22 389.55,49.53 389.90,46.82 390.25,44.13 390.60,41.47 390.95,38.88 391.30,36.37 391.65,33.97 392.00,31.69 392.35,29.56 392.70,27.59 393.05,25.80 393.40,24.18 393.75,22.76 394.10,21.53 394.45,20.49 394.80,19.64 395.15,18.98 395.50,18.48 395.85,18.13 396.20,17.92 396.55,17.82 396.90,17.80 397.25,18.29 397.60,19.74 397.95,22.08 398.30,25.22 398.65,29.04 399.00,33.37 399.35,38.06 399.70,42.95 400.05,47.88 400.40,52.72 400.75,57.34 401.10,61.65 401.45,65.59 401.80,69.11 402.15,72.19 402.50,74.84 402.85,77.07 403.20,78.92 403.55,80.43 403.90,81.63 404.25,82.58 404.60,83.31 404.95,83.87 405.30,84.28 405.65,84.59 406.00,84.81 406.35,84.97" fill="none" stroke="#8a9a9a" stroke-width="0.6" stroke-linejoin="round" opacity="0.7"/>
<text transform="translate(0.9 138.7) scale(0.93 1)" font-size="16" font-weight="bold">B</text>
<text x="58.60" y="178.50" font-size="10.2" text-anchor="start" fill="#000" transform="rotate(-90 58.6 178.5)" stroke="#000" stroke-width="0.25">VSMC</text>
<text x="89.90" y="178.50" font-size="10.2" text-anchor="start" fill="#000" transform="rotate(-90 89.9 178.5)" stroke="#000" stroke-width="0.25">Farage</text>
<text x="118.70" y="178.50" font-size="9.9" text-anchor="start" fill="#000" transform="rotate(-90 118.7 178.5)" stroke="#000" stroke-width="0.25">Karpas422</text>
<text x="146.00" y="178.50" font-size="10.2" text-anchor="start" fill="#000" transform="rotate(-90 146 178.5)" stroke="#000" stroke-width="0.25">OCI-Ly7</text>
<text x="178.70" y="178.50" font-size="10.2" text-anchor="start" fill="#000" transform="rotate(-90 178.7 178.5)" stroke="#000" stroke-width="0.25">EL4</text>
<text x="0.00" y="197.80" font-size="10.4" text-anchor="start" fill="#000" stroke="#000" stroke-width="0.25">PDGFR&#946;</text>
<text x="0.00" y="229.80" font-size="10.4" text-anchor="start" fill="#000" stroke="#000" stroke-width="0.25">&#946;-actin</text>
<defs><linearGradient id="gb" x1="0" y1="0" x2="0" y2="1"><stop offset="0" stop-color="#cfcfcf"/><stop offset="1" stop-color="#d8d8d8"/></linearGradient><filter id="blur1" x="-20%" y="-50%" width="140%" height="200%"><feGaussianBlur stdDeviation="1.2"/></filter><filter id="blur05" x="-20%" y="-50%" width="140%" height="200%"><feGaussianBlur stdDeviation="1.1"/></filter></defs>
<rect x="43.00" y="185.90" width="149.30" height="26.30" fill="#d9d9d9" stroke="none" stroke-width="0"/>
<defs><linearGradient id="lb" x1="0" y1="0" x2="0" y2="1"><stop offset="0" stop-color="#c9c9c9"/><stop offset="1" stop-color="#d8d8d8"/></linearGradient></defs>
<rect x="43.00" y="215.10" width="149.30" height="24.50" fill="url(#lb)" stroke="none" stroke-width="0"/>
<rect x="158.80" y="186.00" width="2.40" height="54.00" fill="#fff" stroke="none" stroke-width="0"/>
<rect x="43.60" y="193.40" width="25.20" height="10.80" rx="4.00" fill="#0c0c0c" opacity="1" filter="url(#blur05)"/>
<rect x="43.40" y="221.40" width="26.80" height="10.80" rx="4.50" fill="#141414" opacity="1" filter="url(#blur05)"/>
<rect x="70.40" y="220.80" width="31.80" height="11.80" rx="5.00" fill="#161616" opacity="1" filter="url(#blur05)"/>
<rect x="102.20" y="222.20" width="23.40" height="8.20" rx="3.60" fill="#1c1c1c" opacity="1" filter="url(#blur05)"/>
<rect x="125.20" y="223.00" width="32.80" height="6.60" rx="3.20" fill="#242424" opacity="1" filter="url(#blur05)"/>
<rect x="164.20" y="223.20" width="23.60" height="6.60" rx="3.00" fill="#1a1a1a" opacity="1" filter="url(#blur05)"/>
<text transform="translate(219.5 139.4) scale(0.93 1)" font-size="16" font-weight="bold">C</text>
<line x1="269.80" y1="131.00" x2="269.80" y2="259.00" stroke="#777" stroke-width="1.3"/>
<line x1="269.80" y1="258.50" x2="414.40" y2="258.50" stroke="#777" stroke-width="1.3"/>
<line x1="269.80" y1="258.50" x2="272.00" y2="258.50" stroke="#888" stroke-width="0.7"/>
<line x1="269.80" y1="245.81" x2="272.00" y2="245.81" stroke="#888" stroke-width="0.7"/>
<line x1="269.80" y1="233.12" x2="272.00" y2="233.12" stroke="#888" stroke-width="0.7"/>
<line x1="269.80" y1="220.43" x2="272.00" y2="220.43" stroke="#888" stroke-width="0.7"/>
<line x1="269.80" y1="207.74" x2="272.00" y2="207.74" stroke="#888" stroke-width="0.7"/>
<line x1="269.80" y1="195.05" x2="272.00" y2="195.05" stroke="#888" stroke-width="0.7"/>
<line x1="269.80" y1="182.36" x2="272.00" y2="182.36" stroke="#888" stroke-width="0.7"/>
<line x1="269.80" y1="169.67" x2="272.00" y2="169.67" stroke="#888" stroke-width="0.7"/>
<line x1="269.80" y1="156.98" x2="272.00" y2="156.98" stroke="#888" stroke-width="0.7"/>
<line x1="269.80" y1="144.29" x2="272.00" y2="144.29" stroke="#888" stroke-width="0.7"/>
<line x1="269.80" y1="131.60" x2="272.00" y2="131.60" stroke="#888" stroke-width="0.7"/>
<line x1="269.90" y1="258.50" x2="269.90" y2="256.30" stroke="#888" stroke-width="0.7"/>
<line x1="287.89" y1="258.50" x2="287.89" y2="256.30" stroke="#888" stroke-width="0.7"/>
<line x1="305.88" y1="258.50" x2="305.88" y2="256.30" stroke="#888" stroke-width="0.7"/>
<line x1="323.86" y1="258.50" x2="323.86" y2="256.30" stroke="#888" stroke-width="0.7"/>
<line x1="341.85" y1="258.50" x2="341.85" y2="256.30" stroke="#888" stroke-width="0.7"/>
<line x1="359.84" y1="258.50" x2="359.84" y2="256.30" stroke="#888" stroke-width="0.7"/>
<line x1="377.82" y1="258.50" x2="377.82" y2="256.30" stroke="#888" stroke-width="0.7"/>
<line x1="395.81" y1="258.50" x2="395.81" y2="256.30" stroke="#888" stroke-width="0.7"/>
<line x1="413.80" y1="258.50" x2="413.80" y2="256.30" stroke="#888" stroke-width="0.7"/>
<text x="265.00" y="236.12" font-size="8.6" text-anchor="end" fill="#000" stroke="#000" stroke-width="0.25">20</text>
<text x="265.00" y="210.74" font-size="8.6" text-anchor="end" fill="#000" stroke="#000" stroke-width="0.25">40</text>
<text x="265.00" y="185.36" font-size="8.6" text-anchor="end" fill="#000" stroke="#000" stroke-width="0.25">60</text>
<text x="265.00" y="159.98" font-size="8.6" text-anchor="end" fill="#000" stroke="#000" stroke-width="0.25">80</text>
<text x="265.00" y="134.60" font-size="8.6" text-anchor="end" fill="#000" stroke="#000" stroke-width="0.25">100</text>
<text x="269.90" y="270.20" font-size="8.6" text-anchor="middle" fill="#000" stroke="#000" stroke-width="0.25">0</text>
<text x="305.88" y="270.20" font-size="8.6" text-anchor="middle" fill="#000" stroke="#000" stroke-width="0.25">20</text>
<text x="341.85" y="270.20" font-size="8.6" text-anchor="middle" fill="#000" stroke="#000" stroke-width="0.25">40</text>
<text x="377.82" y="270.20" font-size="8.6" text-anchor="middle" fill="#000" stroke="#000" stroke-width="0.25">60</text>
<text x="413.80" y="270.20" font-size="8.6" text-anchor="middle" fill="#000" stroke="#000" stroke-width="0.25">80</text>
<text x="346.00" y="282.20" font-size="10.4" text-anchor="middle" fill="#000" stroke="#000" stroke-width="0.2">Imatinib (&#181;M)</text>
<text x="239.20" y="195.30" font-size="9.7" text-anchor="middle" fill="#000" transform="rotate(-90 239.2 195.3)" stroke="#000" stroke-width="0.2">Cell Growth Inhibition</text>
<text x="252.20" y="198.80" font-size="10.5" text-anchor="middle" fill="#000" transform="rotate(-90 252.2 198.8)" stroke="#000" stroke-width="0.2">(% to control)</text>
<polyline points="269.90,258.49 270.80,246.74 271.70,235.76 272.60,226.29 273.50,218.18 274.40,211.23 275.30,205.23 276.20,200.02 277.09,195.45 277.99,191.44 278.89,187.87 279.79,184.70 280.69,181.86 281.59,179.29 282.49,176.98 283.39,174.87 284.29,172.95 285.19,171.19 286.09,169.58 286.99,168.09 287.89,166.72 288.79,165.44 289.69,164.26 290.59,163.16 291.48,162.13 292.38,161.17 293.28,160.27 294.18,159.42 295.08,158.62 295.98,157.87 296.88,157.16 297.78,156.50 298.68,155.86 299.58,155.26 300.48,154.69 301.38,154.15 302.28,153.64 303.18,153.15 304.08,152.68 304.98,152.23 305.88,151.81 306.77,151.40 307.67,151.01 308.57,150.63 309.47,150.28 310.37,149.93 311.27,149.60 312.17,149.28 313.07,148.98 313.97,148.68 314.87,148.40 315.77,148.13 316.67,147.87 317.57,147.61 318.47,147.37 319.37,147.13 320.26,146.90 321.16,146.68 322.06,146.47 322.96,146.26 323.86,146.06 324.76,145.86 325.66,145.67 326.56,145.49 327.46,145.31 328.36,145.14 329.26,144.97 330.16,144.81 331.06,144.65 331.96,144.50 332.86,144.35 333.76,144.21 334.65,144.06 335.55,143.93 336.45,143.79 337.35,143.66 338.25,143.53 339.15,143.41 340.05,143.29 340.95,143.17 341.85,143.06 342.75,142.94 343.65,142.83 344.55,142.73 345.45,142.62 346.35,142.52 347.25,142.42 348.15,142.32 349.04,142.23 349.94,142.13 350.84,142.04 351.74,141.95 352.64,141.86 353.54,141.78 354.44,141.69 355.34,141.61 356.24,141.53 357.14,141.45 358.04,141.38 358.94,141.30 359.84,141.23 360.74,141.15 361.64,141.08 362.54,141.01 363.44,140.94 364.33,140.88 365.23,140.81 366.13,140.74 367.03,140.68 367.93,140.62 368.83,140.56 369.73,140.50 370.63,140.44 371.53,140.38 372.43,140.32 373.33,140.27 374.23,140.21 375.13,140.16 376.03,140.10 376.93,140.05 377.82,140.00 378.72,139.95 379.62,139.90 380.52,139.85 381.42,139.80 382.32,139.75 383.22,139.71 384.12,139.66 385.02,139.61 385.92,139.57 386.82,139.53 387.72,139.48 388.62,139.44 389.52,139.40 390.42,139.36 391.32,139.32 392.22,139.28 393.11,139.24 394.01,139.20 394.91,139.16 395.81,139.12 396.71,139.08 397.61,139.05 398.51,139.01 399.41,138.97 400.31,138.94 401.21,138.90 402.11,138.87 403.01,138.84 403.91,138.80 404.81,138.77 405.71,138.74 406.61,138.71 407.50,138.67 408.40,138.64 409.30,138.61 410.20,138.58 411.10,138.55 412.00,138.52 412.90,138.49 413.80,138.46" fill="none" stroke="#6270aa" stroke-width="0.9" stroke-linejoin="round"/>
<polyline points="269.90,258.50 270.80,258.34 271.70,257.92 272.60,257.28 273.50,256.44 274.40,255.42 275.30,254.22 276.20,252.87 277.09,251.39 277.99,249.78 278.89,248.05 279.79,246.24 280.69,244.34 281.59,242.37 282.49,240.34 283.39,238.26 284.29,236.15 285.19,234.02 286.09,231.87 286.99,229.71 287.89,227.55 288.79,225.39 289.69,223.25 290.59,221.13 291.48,219.03 292.38,216.96 293.28,214.92 294.18,212.91 295.08,210.94 295.98,209.00 296.88,207.11 297.78,205.26 298.68,203.45 299.58,201.68 300.48,199.96 301.38,198.28 302.28,196.64 303.18,195.05 304.08,193.50 304.98,192.00 305.88,190.53 306.77,189.11 307.67,187.73 308.57,186.39 309.47,185.09 310.37,183.82 311.27,182.60 312.17,181.41 313.07,180.25 313.97,179.13 314.87,178.04 315.77,176.99 316.67,175.97 317.57,174.98 318.47,174.01 319.37,173.08 320.26,172.17 321.16,171.29 322.06,170.44 322.96,169.61 323.86,168.81 324.76,168.03 325.66,167.27 326.56,166.54 327.46,165.83 328.36,165.13 329.26,164.46 330.16,163.81 331.06,163.17 331.96,162.56 332.86,161.96 333.76,161.38 334.65,160.81 335.55,160.26 336.45,159.72 337.35,159.20 338.25,158.70 339.15,158.20 340.05,157.72 340.95,157.26 341.85,156.80 342.75,156.36 343.65,155.93 344.55,155.51 345.45,155.10 346.35,154.71 347.25,154.32 348.15,153.94 349.04,153.57 349.94,153.21 350.84,152.86 351.74,152.52 352.64,152.19 353.54,151.86 354.44,151.55 355.34,151.24 356.24,150.94 357.14,150.64 358.04,150.35 358.94,150.07 359.84,149.80 360.74,149.53 361.64,149.27 362.54,149.01 363.44,148.76 364.33,148.52 365.23,148.28 366.13,148.05 367.03,147.82 367.93,147.60 368.83,147.38 369.73,147.17 370.63,146.96 371.53,146.75 372.43,146.55 373.33,146.36 374.23,146.16 375.13,145.98 376.03,145.79 376.93,145.61 377.82,145.44 378.72,145.26 379.62,145.10 380.52,144.93 381.42,144.77 382.32,144.61 383.22,144.45 384.12,144.30 385.02,144.15 385.92,144.00 386.82,143.86 387.72,143.72 388.62,143.58 389.52,143.44 390.42,143.31 391.32,143.18 392.22,143.05 393.11,142.92 394.01,142.80 394.91,142.68 395.81,142.56 396.71,142.44 397.61,142.33 398.51,142.21 399.41,142.10 400.31,141.99 401.21,141.89 402.11,141.78 403.01,141.68 403.91,141.58 404.81,141.48 405.71,141.38 406.61,141.28 407.50,141.19 408.40,141.10 409.30,141.00 410.20,140.91 411.10,140.83 412.00,140.74 412.90,140.65 413.80,140.57" fill="none" stroke="#e0575a" stroke-width="0.9" stroke-linejoin="round"/>
<polyline points="269.90,258.50 270.80,258.50 271.70,258.50 272.60,258.50 273.50,258.50 274.40,258.50 275.30,258.50 276.20,258.50 277.09,258.50 277.99,258.50 278.89,258.49 279.79,258.49 280.69,258.49 281.59,258.48 282.49,258.47 283.39,258.46 284.29,258.45 285.19,258.44 286.09,258.42 286.99,258.40 287.89,258.38 288.79,258.35 289.69,258.32 290.59,258.28 291.48,258.24 292.38,258.19 293.28,258.13 294.18,258.07 295.08,258.00 295.98,257.92 296.88,257.83 297.78,257.73 298.68,257.62 299.58,257.50 300.48,257.37 301.38,257.22 302.28,257.07 303.18,256.89 304.08,256.71 304.98,256.50 305.88,256.28 306.77,256.04 307.67,255.79 308.57,255.51 309.47,255.22 310.37,254.90 311.27,254.57 312.17,254.21 313.07,253.82 313.97,253.42 314.87,252.99 315.77,252.53 316.67,252.05 317.57,251.54 318.47,251.01 319.37,250.45 320.26,249.86 321.16,249.24 322.06,248.59 322.96,247.92 323.86,247.21 324.76,246.48 325.66,245.71 326.56,244.92 327.46,244.09 328.36,243.24 329.26,242.36 330.16,241.45 331.06,240.51 331.96,239.54 332.86,238.55 333.76,237.52 334.65,236.47 335.55,235.40 336.45,234.30 337.35,233.18 338.25,232.03 339.15,230.86 340.05,229.67 340.95,228.46 341.85,227.24 342.75,225.99 343.65,224.73 344.55,223.45 345.45,222.16 346.35,220.86 347.25,219.55 348.15,218.22 349.04,216.89 349.94,215.55 350.84,214.21 351.74,212.86 352.64,211.51 353.54,210.16 354.44,208.81 355.34,207.46 356.24,206.11 357.14,204.77 358.04,203.43 358.94,202.10 359.84,200.77 360.74,199.45 361.64,198.15 362.54,196.85 363.44,195.56 364.33,194.29 365.23,193.02 366.13,191.78 367.03,190.54 367.93,189.32 368.83,188.12 369.73,186.93 370.63,185.75 371.53,184.60 372.43,183.46 373.33,182.34 374.23,181.24 375.13,180.15 376.03,179.08 376.93,178.04 377.82,177.01 378.72,175.99 379.62,175.00 380.52,174.03 381.42,173.07 382.32,172.14 383.22,171.22 384.12,170.32 385.02,169.44 385.92,168.58 386.82,167.73 387.72,166.91 388.62,166.10 389.52,165.31 390.42,164.54 391.32,163.78 392.22,163.04 393.11,162.32 394.01,161.61 394.91,160.92 395.81,160.25 396.71,159.59 397.61,158.95 398.51,158.32 399.41,157.71 400.31,157.11 401.21,156.53 402.11,155.96 403.01,155.41 403.91,154.86 404.81,154.33 405.71,153.82 406.61,153.31 407.50,152.82 408.40,152.34 409.30,151.88 410.20,151.42 411.10,150.98 412.00,150.54 412.90,150.12 413.80,149.71" fill="none" stroke="#6270aa" stroke-width="0.9" stroke-linejoin="round"/>
<polyline points="269.90,258.50 270.80,258.31 271.70,257.99 272.60,257.59 273.50,257.13 274.40,256.63 275.30,256.07 276.20,255.48 277.09,254.86 277.99,254.21 278.89,253.54 279.79,252.84 280.69,252.12 281.59,251.39 282.49,250.64 283.39,249.87 284.29,249.09 285.19,248.31 286.09,247.51 286.99,246.70 287.89,245.88 288.79,245.06 289.69,244.24 290.59,243.41 291.48,242.57 292.38,241.74 293.28,240.90 294.18,240.06 295.08,239.22 295.98,238.37 296.88,237.53 297.78,236.69 298.68,235.86 299.58,235.02 300.48,234.19 301.38,233.36 302.28,232.53 303.18,231.70 304.08,230.88 304.98,230.07 305.88,229.25 306.77,228.44 307.67,227.64 308.57,226.84 309.47,226.05 310.37,225.26 311.27,224.48 312.17,223.70 313.07,222.93 313.97,222.17 314.87,221.41 315.77,220.66 316.67,219.91 317.57,219.17 318.47,218.43 319.37,217.71 320.26,216.99 321.16,216.27 322.06,215.56 322.96,214.86 323.86,214.16 324.76,213.47 325.66,212.79 326.56,212.12 327.46,211.45 328.36,210.78 329.26,210.13 330.16,209.48 331.06,208.83 331.96,208.20 332.86,207.57 333.76,206.94 334.65,206.33 335.55,205.71 336.45,205.11 337.35,204.51 338.25,203.92 339.15,203.33 340.05,202.75 340.95,202.18 341.85,201.61 342.75,201.05 343.65,200.49 344.55,199.94 345.45,199.40 346.35,198.86 347.25,198.33 348.15,197.80 349.04,197.28 349.94,196.76 350.84,196.25 351.74,195.75 352.64,195.25 353.54,194.75 354.44,194.27 355.34,193.78 356.24,193.30 357.14,192.83 358.04,192.36 358.94,191.90 359.84,191.44 360.74,190.99 361.64,190.54 362.54,190.10 363.44,189.66 364.33,189.23 365.23,188.80 366.13,188.37 367.03,187.95 367.93,187.54 368.83,187.13 369.73,186.72 370.63,186.32 371.53,185.92 372.43,185.53 373.33,185.14 374.23,184.75 375.13,184.37 376.03,183.99 376.93,183.62 377.82,183.25 378.72,182.88 379.62,182.52 380.52,182.16 381.42,181.81 382.32,181.46 383.22,181.11 384.12,180.77 385.02,180.43 385.92,180.09 386.82,179.76 387.72,179.43 388.62,179.10 389.52,178.78 390.42,178.46 391.32,178.15 392.22,177.83 393.11,177.52 394.01,177.22 394.91,176.91 395.81,176.61 396.71,176.32 397.61,176.02 398.51,175.73 399.41,175.44 400.31,175.16 401.21,174.87 402.11,174.60 403.01,174.32 403.91,174.04 404.81,173.77 405.71,173.50 406.61,173.24 407.50,172.97 408.40,172.71 409.30,172.45 410.20,172.20 411.10,171.94 412.00,171.69 412.90,171.44 413.80,171.20" fill="none" stroke="#e0606a" stroke-width="0.9" stroke-linejoin="round"/>
<polyline points="269.90,258.50 270.80,258.21 271.70,257.89 272.60,257.56 273.50,257.23 274.40,256.90 275.30,256.56 276.20,256.23 277.09,255.89 277.99,255.55 278.89,255.21 279.79,254.87 280.69,254.53 281.59,254.19 282.49,253.85 283.39,253.51 284.29,253.17 285.19,252.84 286.09,252.50 286.99,252.16 287.89,251.83 288.79,251.49 289.69,251.16 290.59,250.83 291.48,250.50 292.38,250.16 293.28,249.84 294.18,249.51 295.08,249.18 295.98,248.85 296.88,248.53 297.78,248.20 298.68,247.88 299.58,247.56 300.48,247.24 301.38,246.92 302.28,246.60 303.18,246.28 304.08,245.97 304.98,245.65 305.88,245.34 306.77,245.03 307.67,244.72 308.57,244.41 309.47,244.10 310.37,243.79 311.27,243.49 312.17,243.18 313.07,242.88 313.97,242.58 314.87,242.28 315.77,241.98 316.67,241.68 317.57,241.38 318.47,241.09 319.37,240.79 320.26,240.50 321.16,240.21 322.06,239.92 322.96,239.63 323.86,239.34 324.76,239.05 325.66,238.77 326.56,238.49 327.46,238.20 328.36,237.92 329.26,237.64 330.16,237.36 331.06,237.08 331.96,236.81 332.86,236.53 333.76,236.26 334.65,235.98 335.55,235.71 336.45,235.44 337.35,235.17 338.25,234.90 339.15,234.63 340.05,234.37 340.95,234.10 341.85,233.84 342.75,233.58 343.65,233.31 344.55,233.05 345.45,232.79 346.35,232.54 347.25,232.28 348.15,232.02 349.04,231.77 349.94,231.52 350.84,231.26 351.74,231.01 352.64,230.76 353.54,230.51 354.44,230.26 355.34,230.02 356.24,229.77 357.14,229.53 358.04,229.28 358.94,229.04 359.84,228.80 360.74,228.56 361.64,228.32 362.54,228.08 363.44,227.84 364.33,227.60 365.23,227.37 366.13,227.14 367.03,226.90 367.93,226.67 368.83,226.44 369.73,226.21 370.63,225.98 371.53,225.75 372.43,225.52 373.33,225.30 374.23,225.07 375.13,224.85 376.03,224.62 376.93,224.40 377.82,224.18 378.72,223.96 379.62,223.74 380.52,223.52 381.42,223.30 382.32,223.08 383.22,222.87 384.12,222.65 385.02,222.44 385.92,222.22 386.82,222.01 387.72,221.80 388.62,221.59 389.52,221.38 390.42,221.17 391.32,220.96 392.22,220.76 393.11,220.55 394.01,220.35 394.91,220.14 395.81,219.94 396.71,219.73 397.61,219.53 398.51,219.33 399.41,219.13 400.31,218.93 401.21,218.73 402.11,218.53 403.01,218.34 403.91,218.14 404.81,217.95 405.71,217.75 406.61,217.56 407.50,217.36 408.40,217.17 409.30,216.98 410.20,216.79 411.10,216.60 412.00,216.41 412.90,216.22 413.80,216.04" fill="none" stroke="#9a80c0" stroke-width="0.9" stroke-linejoin="round"/>
<polyline points="269.90,258.49 270.80,257.53 271.70,256.87 272.60,256.29 273.50,255.76 274.40,255.26 275.30,254.79 276.20,254.35 277.09,253.92 277.99,253.50 278.89,253.10 279.79,252.71 280.69,252.33 281.59,251.97 282.49,251.61 283.39,251.26 284.29,250.91 285.19,250.57 286.09,250.24 286.99,249.92 287.89,249.60 288.79,249.29 289.69,248.98 290.59,248.68 291.48,248.38 292.38,248.09 293.28,247.80 294.18,247.51 295.08,247.23 295.98,246.95 296.88,246.68 297.78,246.41 298.68,246.14 299.58,245.87 300.48,245.61 301.38,245.35 302.28,245.10 303.18,244.85 304.08,244.60 304.98,244.35 305.88,244.10 306.77,243.86 307.67,243.62 308.57,243.38 309.47,243.15 310.37,242.92 311.27,242.69 312.17,242.46 313.07,242.23 313.97,242.01 314.87,241.78 315.77,241.56 316.67,241.34 317.57,241.13 318.47,240.91 319.37,240.70 320.26,240.49 321.16,240.28 322.06,240.07 322.96,239.86 323.86,239.66 324.76,239.46 325.66,239.25 326.56,239.05 327.46,238.86 328.36,238.66 329.26,238.46 330.16,238.27 331.06,238.07 331.96,237.88 332.86,237.69 333.76,237.50 334.65,237.32 335.55,237.13 336.45,236.94 337.35,236.76 338.25,236.58 339.15,236.40 340.05,236.22 340.95,236.04 341.85,235.86 342.75,235.68 343.65,235.51 344.55,235.33 345.45,235.16 346.35,234.99 347.25,234.81 348.15,234.64 349.04,234.47 349.94,234.31 350.84,234.14 351.74,233.97 352.64,233.81 353.54,233.64 354.44,233.48 355.34,233.32 356.24,233.15 357.14,232.99 358.04,232.83 358.94,232.68 359.84,232.52 360.74,232.36 361.64,232.20 362.54,232.05 363.44,231.89 364.33,231.74 365.23,231.59 366.13,231.43 367.03,231.28 367.93,231.13 368.83,230.98 369.73,230.83 370.63,230.68 371.53,230.54 372.43,230.39 373.33,230.24 374.23,230.10 375.13,229.95 376.03,229.81 376.93,229.67 377.82,229.52 378.72,229.38 379.62,229.24 380.52,229.10 381.42,228.96 382.32,228.82 383.22,228.68 384.12,228.55 385.02,228.41 385.92,228.27 386.82,228.14 387.72,228.00 388.62,227.87 389.52,227.73 390.42,227.60 391.32,227.47 392.22,227.33 393.11,227.20 394.01,227.07 394.91,226.94 395.81,226.81 396.71,226.68 397.61,226.55 398.51,226.43 399.41,226.30 400.31,226.17 401.21,226.04 402.11,225.92 403.01,225.79 403.91,225.67 404.81,225.54 405.71,225.42 406.61,225.30 407.50,225.17 408.40,225.05 409.30,224.93 410.20,224.81 411.10,224.69 412.00,224.57 412.90,224.45 413.80,224.33" fill="none" stroke="#9cc070" stroke-width="0.9" stroke-linejoin="round"/>
<polygon points="270.98,230.52 273.58,233.12 270.98,235.72 268.38,233.12" fill="none" stroke="#7888c0" stroke-width="0.9"/>
<polygon points="305.88,152.48 308.48,155.08 305.88,157.68 303.27,155.08" fill="none" stroke="#7888c0" stroke-width="0.9"/>
<polygon points="341.85,139.79 344.45,142.39 341.85,144.99 339.25,142.39" fill="none" stroke="#7888c0" stroke-width="0.9"/>
<rect x="268.40" y="255.47" width="4.80" height="4.80" fill="none" stroke="#e07050" stroke-width="0.9"/>
<rect x="269.30" y="254.20" width="4.80" height="4.80" fill="none" stroke="#e07050" stroke-width="0.9"/>
<rect x="272.72" y="247.22" width="4.80" height="4.80" fill="none" stroke="#e07050" stroke-width="0.9"/>
<rect x="278.83" y="232.37" width="4.80" height="4.80" fill="none" stroke="#e07050" stroke-width="0.9"/>
<rect x="289.62" y="210.80" width="4.80" height="4.80" fill="none" stroke="#e07050" stroke-width="0.9"/>
<rect x="357.62" y="152.68" width="4.80" height="4.80" fill="none" stroke="#e07050" stroke-width="0.9"/>
<circle cx="314.51" cy="181.73" r="2.6" fill="none" stroke="#e05050" stroke-width="0.9"/>
<circle cx="305.88" cy="257.87" r="2.6" fill="none" stroke="#7080c0" stroke-width="0.9"/>
<circle cx="342.21" cy="192.77" r="2.6" fill="none" stroke="#7080c0" stroke-width="0.9"/>
<circle cx="414.52" cy="160.15" r="2.6" fill="none" stroke="#7080c0" stroke-width="0.9"/>
<line x1="270.40" y1="254.40" x2="274.80" y2="258.80" stroke="#e06060" stroke-width="0.9"/>
<line x1="270.40" y1="258.80" x2="274.80" y2="254.40" stroke="#e06060" stroke-width="0.9"/>
<line x1="273.10" y1="251.22" x2="277.50" y2="255.62" stroke="#e06060" stroke-width="0.9"/>
<line x1="273.10" y1="255.62" x2="277.50" y2="251.22" stroke="#e06060" stroke-width="0.9"/>
<line x1="278.85" y1="244.24" x2="283.25" y2="248.64" stroke="#e06060" stroke-width="0.9"/>
<line x1="278.85" y1="248.64" x2="283.25" y2="244.24" stroke="#e06060" stroke-width="0.9"/>
<line x1="357.82" y1="195.39" x2="362.22" y2="199.79" stroke="#e06060" stroke-width="0.9"/>
<line x1="357.82" y1="199.79" x2="362.22" y2="195.39" stroke="#e06060" stroke-width="0.9"/>
<polygon points="289.22,241.01 294.82,241.01 292.02,246.05" fill="none" stroke="#8a70b8" stroke-width="0.9"/>
<polygon points="356.50,230.60 362.10,230.60 359.30,235.64" fill="none" stroke="#8a70b8" stroke-width="0.9"/>
<polygon points="278.25,245.83 283.85,245.83 281.05,250.87" fill="none" stroke="#9cc070" stroke-width="0.9"/>
<polygon points="356.50,233.77 362.10,233.77 359.30,238.81" fill="none" stroke="#9cc070" stroke-width="0.9"/>
<circle cx="271.34" cy="257.23" r="2.6" fill="#e03030" opacity="0.85"/>
<text x="436.40" y="134.40" font-size="7.75" text-anchor="start" fill="#000" stroke="#000" stroke-width="0.4">VSMC GI<tspan font-size="5" dy="1.8">50</tspan><tspan dy="-1.8">: 3.9 &#181;M</tspan></text>
<polygon points="426.60,128.70 429.50,131.60 426.60,134.50 423.70,131.60" fill="none" stroke="#3f6fb5" stroke-width="1.4"/>
<text x="436.40" y="146.20" font-size="7.75" text-anchor="start" fill="#000" stroke="#000" stroke-width="0.4">OCI-Ly7 GI<tspan font-size="5" dy="1.8">50</tspan><tspan dy="-1.8">: 18.2 &#181;M</tspan></text>
<rect x="424.00" y="141.20" width="5.2" height="4.4" rx="1.2" fill="#f6d09a" stroke="#e8a050" stroke-width="1.2"/>
<text x="436.40" y="158.40" font-size="7.75" text-anchor="start" fill="#000" stroke="#000" stroke-width="0.4">EC GI<tspan font-size="5" dy="1.8">50</tspan><tspan dy="-1.8">: 52.2 &#181;M</tspan></text>
<circle cx="426.60" cy="155.60" r="2.6" fill="none" stroke="#3f6fb5" stroke-width="1.4"/>
<text x="436.40" y="171.80" font-size="7.75" text-anchor="start" fill="#000" stroke="#000" stroke-width="0.4">EL4&#160; GI<tspan font-size="5" dy="1.8">50</tspan><tspan dy="-1.8">: 46.2 &#181;M</tspan></text>
<circle cx="426.60" cy="169.00" r="2.5" fill="#c84848"/>
<line x1="423.40" y1="169.00" x2="429.80" y2="169.00" stroke="#c84848" stroke-width="1.3"/>
<line x1="426.60" y1="165.80" x2="426.60" y2="172.20" stroke="#c84848" stroke-width="1.3"/>
<text x="436.40" y="210.30" font-size="7.75" text-anchor="start" fill="#000" stroke="#000" stroke-width="0.4">Karpas422 GI<tspan font-size="5" dy="1.8">50</tspan><tspan dy="-1.8">: 153 &#181;M</tspan></text>
<polygon points="424.40,204.30 424.40,209.70 430.00,209.70" fill="#e8e0f4" stroke="#6a4aa8" stroke-width="1.3"/>
<text x="436.40" y="223.60" font-size="7.75" text-anchor="start" fill="#000" stroke="#000" stroke-width="0.4">Farage GI<tspan font-size="5" dy="1.8">50</tspan><tspan dy="-1.8">: 296 &#181;M</tspan></text>
<polygon points="424.40,217.60 424.40,223.00 430.00,223.00" fill="#d4e6b0" stroke="#8ab060" stroke-width="1.3"/>
<text transform="translate(0.7 289.3) scale(0.93 1)" font-size="16" font-weight="bold">D</text>
<line x1="61.30" y1="313.50" x2="61.30" y2="416.30" stroke="#bbb" stroke-width="1"/>
<line x1="59.00" y1="416.30" x2="185.50" y2="416.30" stroke="#999" stroke-width="1"/>
<line x1="58.50" y1="416.30" x2="61.30" y2="416.30" stroke="#bbb" stroke-width="1"/>
<text x="52.50" y="419.50" font-size="9.2" text-anchor="end" fill="#222">0</text>
<line x1="58.50" y1="399.40" x2="61.30" y2="399.40" stroke="#bbb" stroke-width="1"/>
<text x="52.50" y="402.60" font-size="9.2" text-anchor="end" fill="#222">20</text>
<line x1="58.50" y1="382.50" x2="61.30" y2="382.50" stroke="#bbb" stroke-width="1"/>
<text x="52.50" y="385.70" font-size="9.2" text-anchor="end" fill="#222">40</text>
<line x1="58.50" y1="365.60" x2="61.30" y2="365.60" stroke="#bbb" stroke-width="1"/>
<text x="52.50" y="368.80" font-size="9.2" text-anchor="end" fill="#222">60</text>
<line x1="58.50" y1="348.70" x2="61.30" y2="348.70" stroke="#bbb" stroke-width="1"/>
<text x="52.50" y="351.90" font-size="9.2" text-anchor="end" fill="#222">80</text>
<line x1="58.50" y1="331.80" x2="61.30" y2="331.80" stroke="#bbb" stroke-width="1"/>
<text x="52.50" y="335.00" font-size="9.2" text-anchor="end" fill="#222">100</text>
<line x1="58.50" y1="314.90" x2="61.30" y2="314.90" stroke="#bbb" stroke-width="1"/>
<text x="52.50" y="318.10" font-size="9.2" text-anchor="end" fill="#222">120</text>
<rect x="74.80" y="330.79" width="17.50" height="85.51" fill="#000" stroke="none" stroke-width="0"/>
<line x1="83.55" y1="330.79" x2="83.55" y2="325.04" stroke="#000" stroke-width="1"/>
<line x1="81.75" y1="325.04" x2="85.35" y2="325.04" stroke="#000" stroke-width="1"/>
<rect x="117.90" y="372.02" width="17.50" height="44.28" fill="#000" stroke="none" stroke-width="0"/>
<line x1="126.65" y1="372.02" x2="126.65" y2="367.37" stroke="#000" stroke-width="1"/>
<line x1="124.85" y1="367.37" x2="128.45" y2="367.37" stroke="#000" stroke-width="1"/>
<rect x="161.00" y="392.47" width="16.90" height="23.83" fill="#000" stroke="none" stroke-width="0"/>
<line x1="169.45" y1="392.47" x2="169.45" y2="388.08" stroke="#000" stroke-width="1"/>
<line x1="167.65" y1="388.08" x2="171.25" y2="388.08" stroke="#000" stroke-width="1"/>
<text x="82.00" y="427.00" font-size="9.0" text-anchor="middle" font-weight="bold" fill="#000">24 h</text>
<text x="126.30" y="427.00" font-size="9.0" text-anchor="middle" font-weight="bold" fill="#000">48 h</text>
<text x="169.40" y="427.00" font-size="9.0" text-anchor="middle" font-weight="bold" fill="#000">72 h</text>
<text x="17.20" y="357.80" font-size="9.3" text-anchor="middle" fill="#000" transform="rotate(-90 17.2 357.8)" stroke="#000" stroke-width="0.2">PDGFR&#946; mRNA Abundance</text>
<text x="27.60" y="357.50" font-size="9.3" text-anchor="middle" fill="#000" transform="rotate(-90 27.6 357.5)" stroke="#000" stroke-width="0.2">(normalized to siRNA NT at 24 h)</text>
<text transform="translate(219.4 289.4) scale(0.93 1)" font-size="16" font-weight="bold">E</text>
<line x1="267.80" y1="298.70" x2="267.80" y2="417.00" stroke="#bbb" stroke-width="1"/>
<line x1="265.00" y1="417.00" x2="459.50" y2="417.00" stroke="#999" stroke-width="1"/>
<line x1="265.20" y1="417.00" x2="267.80" y2="417.00" stroke="#bbb" stroke-width="1"/>
<text x="259.00" y="420.20" font-size="9.2" text-anchor="end" fill="#222">0</text>
<line x1="265.20" y1="400.10" x2="267.80" y2="400.10" stroke="#bbb" stroke-width="1"/>
<text x="259.00" y="403.30" font-size="9.2" text-anchor="end" fill="#222">20</text>
<line x1="265.20" y1="383.20" x2="267.80" y2="383.20" stroke="#bbb" stroke-width="1"/>
<text x="259.00" y="386.40" font-size="9.2" text-anchor="end" fill="#222">40</text>
<line x1="265.20" y1="366.30" x2="267.80" y2="366.30" stroke="#bbb" stroke-width="1"/>
<text x="259.00" y="369.50" font-size="9.2" text-anchor="end" fill="#222">60</text>
<line x1="265.20" y1="349.40" x2="267.80" y2="349.40" stroke="#bbb" stroke-width="1"/>
<text x="259.00" y="352.60" font-size="9.2" text-anchor="end" fill="#222">80</text>
<line x1="265.20" y1="332.50" x2="267.80" y2="332.50" stroke="#bbb" stroke-width="1"/>
<text x="259.00" y="335.70" font-size="9.2" text-anchor="end" fill="#222">100</text>
<line x1="265.20" y1="315.60" x2="267.80" y2="315.60" stroke="#bbb" stroke-width="1"/>
<text x="259.00" y="318.80" font-size="9.2" text-anchor="end" fill="#222">120</text>
<line x1="265.20" y1="298.70" x2="267.80" y2="298.70" stroke="#bbb" stroke-width="1"/>
<text x="259.00" y="301.90" font-size="9.2" text-anchor="end" fill="#222">140</text>
<rect x="278.70" y="336.20" width="13.50" height="80.80" fill="#77933c" stroke="#5a4a20" stroke-width="0.8"/>
<line x1="285.45" y1="331.30" x2="285.45" y2="341.00" stroke="#222" stroke-width="1"/>
<line x1="283.55" y1="331.30" x2="287.35" y2="331.30" stroke="#222" stroke-width="1"/>
<line x1="283.55" y1="341.00" x2="287.35" y2="341.00" stroke="#222" stroke-width="1"/>
<rect x="293.00" y="373.71" width="12.80" height="43.29" fill="#e46c22" stroke="#5a4a20" stroke-width="0.8"/>
<line x1="299.40" y1="371.30" x2="299.40" y2="375.20" stroke="#222" stroke-width="1"/>
<line x1="297.50" y1="371.30" x2="301.30" y2="371.30" stroke="#222" stroke-width="1"/>
<line x1="297.50" y1="375.20" x2="301.30" y2="375.20" stroke="#222" stroke-width="1"/>
<rect x="327.30" y="359.18" width="12.70" height="57.82" fill="#77933c" stroke="#5a4a20" stroke-width="0.8"/>
<line x1="333.65" y1="348.70" x2="333.65" y2="369.40" stroke="#222" stroke-width="1"/>
<line x1="331.75" y1="348.70" x2="335.55" y2="348.70" stroke="#222" stroke-width="1"/>
<line x1="331.75" y1="369.40" x2="335.55" y2="369.40" stroke="#222" stroke-width="1"/>
<rect x="340.80" y="357.07" width="13.40" height="59.93" fill="#e46c22" stroke="#5a4a20" stroke-width="0.8"/>
<line x1="347.50" y1="350.00" x2="347.50" y2="364.60" stroke="#222" stroke-width="1"/>
<line x1="345.60" y1="350.00" x2="349.40" y2="350.00" stroke="#222" stroke-width="1"/>
<line x1="345.60" y1="364.60" x2="349.40" y2="364.60" stroke="#222" stroke-width="1"/>
<rect x="375.40" y="333.07" width="13.80" height="83.93" fill="#77933c" stroke="#5a4a20" stroke-width="0.8"/>
<line x1="382.30" y1="331.30" x2="382.30" y2="334.80" stroke="#222" stroke-width="1"/>
<line x1="380.40" y1="331.30" x2="384.20" y2="331.30" stroke="#222" stroke-width="1"/>
<line x1="380.40" y1="334.80" x2="384.20" y2="334.80" stroke="#222" stroke-width="1"/>
<rect x="390.00" y="338.56" width="12.90" height="78.44" fill="#e46c22" stroke="#5a4a20" stroke-width="0.8"/>
<line x1="396.45" y1="330.20" x2="396.45" y2="347.10" stroke="#222" stroke-width="1"/>
<line x1="394.55" y1="330.20" x2="398.35" y2="330.20" stroke="#222" stroke-width="1"/>
<line x1="394.55" y1="347.10" x2="398.35" y2="347.10" stroke="#222" stroke-width="1"/>
<rect x="424.40" y="324.70" width="13.00" height="92.30" fill="#77933c" stroke="#5a4a20" stroke-width="0.8"/>
<line x1="430.90" y1="316.90" x2="430.90" y2="332.30" stroke="#222" stroke-width="1"/>
<line x1="429.00" y1="316.90" x2="432.80" y2="316.90" stroke="#222" stroke-width="1"/>
<line x1="429.00" y1="332.30" x2="432.80" y2="332.30" stroke="#222" stroke-width="1"/>
<rect x="438.20" y="321.49" width="13.40" height="95.51" fill="#e46c22" stroke="#5a4a20" stroke-width="0.8"/>
<line x1="444.90" y1="314.80" x2="444.90" y2="327.70" stroke="#222" stroke-width="1"/>
<line x1="443.00" y1="314.80" x2="446.80" y2="314.80" stroke="#222" stroke-width="1"/>
<line x1="443.00" y1="327.70" x2="446.80" y2="327.70" stroke="#222" stroke-width="1"/>
<text x="299.40" y="367.80" font-size="10" text-anchor="middle" font-weight="bold" fill="#000">*</text>
<text x="227.00" y="372.00" font-size="9.3" text-anchor="middle" fill="#000" transform="rotate(-90 227.0 372.0)" stroke="#000" stroke-width="0.2">Percent of Viable Cells</text>
<text x="238.20" y="368.50" font-size="9.3" text-anchor="middle" fill="#000" transform="rotate(-90 238.2 368.5)" stroke="#000" stroke-width="0.2">(normalized to siRNA NT at 24 h)</text>
<text x="242.60" y="435.40" font-size="9.4" text-anchor="start" fill="#000" stroke="#000" stroke-width="0.35">Imatinib</text>
<text x="242.40" y="446.30" font-size="9.4" text-anchor="start" fill="#000" stroke="#000" stroke-width="0.35">siRNA</text>
<text x="285.40" y="434.50" font-size="9.4" text-anchor="middle" fill="#000" stroke="#000" stroke-width="0.3">-</text>
<text x="300.80" y="434.80" font-size="9.4" text-anchor="middle" font-weight="bold" fill="#000">+</text>
<text x="333.60" y="434.50" font-size="9.4" text-anchor="middle" fill="#000" stroke="#000" stroke-width="0.3">-</text>
<text x="348.90" y="434.80" font-size="9.4" text-anchor="middle" font-weight="bold" fill="#000">+</text>
<text x="382.30" y="434.50" font-size="9.4" text-anchor="middle" fill="#000" stroke="#000" stroke-width="0.3">-</text>
<text x="397.80" y="434.80" font-size="9.4" text-anchor="middle" font-weight="bold" fill="#000">+</text>
<text x="430.90" y="434.50" font-size="9.4" text-anchor="middle" fill="#000" stroke="#000" stroke-width="0.3">-</text>
<text x="446.30" y="434.80" font-size="9.4" text-anchor="middle" font-weight="bold" fill="#000">+</text>
<text x="286.40" y="446.40" font-size="9.0" text-anchor="middle" fill="#000" stroke="#000" stroke-width="0.4">NT</text>
<text x="301.40" y="446.40" font-size="9.0" text-anchor="middle" fill="#000" stroke="#000" stroke-width="0.4">NT</text>
<text x="334.60" y="446.40" font-size="9.0" text-anchor="middle" fill="#000" stroke="#000" stroke-width="0.4">#1</text>
<text x="348.80" y="446.40" font-size="9.0" text-anchor="middle" fill="#000" stroke="#000" stroke-width="0.4">#1</text>
<text x="383.20" y="446.40" font-size="9.0" text-anchor="middle" fill="#000" stroke="#000" stroke-width="0.4">NT</text>
<text x="397.80" y="446.40" font-size="9.0" text-anchor="middle" fill="#000" stroke="#000" stroke-width="0.4">NT</text>
<text x="430.00" y="446.40" font-size="9.0" text-anchor="middle" fill="#000" stroke="#000" stroke-width="0.4">#1</text>
<text x="444.60" y="446.40" font-size="9.0" text-anchor="middle" fill="#000" stroke="#000" stroke-width="0.4">#1</text>
<line x1="276.50" y1="451.80" x2="358.00" y2="451.80" stroke="#000" stroke-width="1.1"/>
<line x1="373.00" y1="451.80" x2="453.70" y2="451.80" stroke="#000" stroke-width="1.1"/>
<text x="317.30" y="463.60" font-size="9.8" text-anchor="middle" fill="#000" stroke="#000" stroke-width="0.4">HBVP</text>
<text x="413.20" y="463.60" font-size="9.8" text-anchor="middle" fill="#000" stroke="#000" stroke-width="0.4">Karpas422</text>
<text transform="translate(2.2 464.8) scale(0.93 1)" font-size="16" font-weight="bold">F</text>
<line x1="62.30" y1="467.40" x2="62.30" y2="653.00" stroke="#bbb" stroke-width="1"/>
<line x1="62.30" y1="598.80" x2="388.70" y2="598.80" stroke="#aaa" stroke-width="1"/>
<line x1="58.30" y1="598.80" x2="62.30" y2="598.80" stroke="#bbb" stroke-width="1"/>
<text x="51.00" y="602.60" font-size="10.6" text-anchor="end" fill="#222">0</text>
<line x1="58.30" y1="582.30" x2="62.30" y2="582.30" stroke="#bbb" stroke-width="1"/>
<text x="51.00" y="586.10" font-size="10.6" text-anchor="end" fill="#222">50</text>
<line x1="58.30" y1="565.80" x2="62.30" y2="565.80" stroke="#bbb" stroke-width="1"/>
<text x="51.00" y="569.60" font-size="10.6" text-anchor="end" fill="#222">100</text>
<line x1="58.30" y1="549.30" x2="62.30" y2="549.30" stroke="#bbb" stroke-width="1"/>
<text x="51.00" y="553.10" font-size="10.6" text-anchor="end" fill="#222">150</text>
<line x1="58.30" y1="532.80" x2="62.30" y2="532.80" stroke="#bbb" stroke-width="1"/>
<text x="51.00" y="536.60" font-size="10.6" text-anchor="end" fill="#222">200</text>
<line x1="58.30" y1="516.30" x2="62.30" y2="516.30" stroke="#bbb" stroke-width="1"/>
<text x="51.00" y="520.10" font-size="10.6" text-anchor="end" fill="#222">250</text>
<line x1="58.30" y1="499.80" x2="62.30" y2="499.80" stroke="#bbb" stroke-width="1"/>
<text x="51.00" y="503.60" font-size="10.6" text-anchor="end" fill="#222">300</text>
<line x1="58.30" y1="483.30" x2="62.30" y2="483.30" stroke="#bbb" stroke-width="1"/>
<text x="51.00" y="487.10" font-size="10.6" text-anchor="end" fill="#222">350</text>
<line x1="58.30" y1="466.80" x2="62.30" y2="466.80" stroke="#bbb" stroke-width="1"/>
<text x="51.00" y="470.60" font-size="10.6" text-anchor="end" fill="#222">400</text>
<line x1="98.57" y1="598.80" x2="98.57" y2="625.50" stroke="#ccc" stroke-width="1"/>
<line x1="134.84" y1="598.80" x2="134.84" y2="625.50" stroke="#ccc" stroke-width="1"/>
<line x1="171.11" y1="598.80" x2="171.11" y2="653.00" stroke="#ccc" stroke-width="1"/>
<line x1="207.38" y1="598.80" x2="207.38" y2="625.50" stroke="#ccc" stroke-width="1"/>
<line x1="243.65" y1="598.80" x2="243.65" y2="625.50" stroke="#ccc" stroke-width="1"/>
<line x1="279.92" y1="598.80" x2="279.92" y2="653.00" stroke="#ccc" stroke-width="1"/>
<line x1="316.19" y1="598.80" x2="316.19" y2="625.50" stroke="#ccc" stroke-width="1"/>
<line x1="352.46" y1="598.80" x2="352.46" y2="625.50" stroke="#ccc" stroke-width="1"/>
<line x1="388.73" y1="598.80" x2="388.73" y2="653.00" stroke="#ccc" stroke-width="1"/>
<rect x="70.70" y="566.10" width="10.00" height="32.70" fill="#4f81bd" stroke="#3a3a50" stroke-width="0.6"/>
<line x1="75.70" y1="562.80" x2="75.70" y2="569.20" stroke="#222" stroke-width="1"/>
<line x1="73.60" y1="562.80" x2="77.80" y2="562.80" stroke="#222" stroke-width="1"/>
<line x1="73.60" y1="569.20" x2="77.80" y2="569.20" stroke="#222" stroke-width="1"/>
<rect x="81.30" y="566.10" width="10.00" height="32.70" fill="#c0504d" stroke="#503030" stroke-width="0.6"/>
<line x1="86.30" y1="562.80" x2="86.30" y2="569.20" stroke="#222" stroke-width="1"/>
<line x1="84.20" y1="562.80" x2="88.40" y2="562.80" stroke="#222" stroke-width="1"/>
<line x1="84.20" y1="569.20" x2="88.40" y2="569.20" stroke="#222" stroke-width="1"/>
<text x="80.44" y="620.60" font-size="10.6" text-anchor="middle" fill="#222">24 h</text>
<rect x="106.97" y="549.60" width="10.00" height="49.20" fill="#4f81bd" stroke="#3a3a50" stroke-width="0.6"/>
<line x1="111.97" y1="545.50" x2="111.97" y2="553.80" stroke="#222" stroke-width="1"/>
<line x1="109.87" y1="545.50" x2="114.07" y2="545.50" stroke="#222" stroke-width="1"/>
<line x1="109.87" y1="553.80" x2="114.07" y2="553.80" stroke="#222" stroke-width="1"/>
<rect x="117.57" y="550.26" width="10.00" height="48.54" fill="#c0504d" stroke="#503030" stroke-width="0.6"/>
<line x1="122.57" y1="545.50" x2="122.57" y2="554.50" stroke="#222" stroke-width="1"/>
<line x1="120.47" y1="545.50" x2="124.67" y2="545.50" stroke="#222" stroke-width="1"/>
<line x1="120.47" y1="554.50" x2="124.67" y2="554.50" stroke="#222" stroke-width="1"/>
<text x="116.70" y="620.60" font-size="10.6" text-anchor="middle" fill="#222">48 h</text>
<rect x="143.24" y="529.80" width="10.00" height="69.00" fill="#4f81bd" stroke="#3a3a50" stroke-width="0.6"/>
<line x1="148.24" y1="523.00" x2="148.24" y2="536.20" stroke="#222" stroke-width="1"/>
<line x1="146.14" y1="523.00" x2="150.34" y2="523.00" stroke="#222" stroke-width="1"/>
<line x1="146.14" y1="536.20" x2="150.34" y2="536.20" stroke="#222" stroke-width="1"/>
<rect x="153.84" y="519.90" width="10.00" height="78.90" fill="#c0504d" stroke="#503030" stroke-width="0.6"/>
<line x1="158.84" y1="513.80" x2="158.84" y2="525.40" stroke="#222" stroke-width="1"/>
<line x1="156.74" y1="513.80" x2="160.94" y2="513.80" stroke="#222" stroke-width="1"/>
<line x1="156.74" y1="525.40" x2="160.94" y2="525.40" stroke="#222" stroke-width="1"/>
<text x="152.97" y="620.60" font-size="10.6" text-anchor="middle" fill="#222">72 h</text>
<rect x="179.51" y="566.10" width="10.00" height="32.70" fill="#4f81bd" stroke="#3a3a50" stroke-width="0.6"/>
<line x1="184.51" y1="564.80" x2="184.51" y2="567.00" stroke="#222" stroke-width="1"/>
<line x1="182.41" y1="564.80" x2="186.61" y2="564.80" stroke="#222" stroke-width="1"/>
<line x1="182.41" y1="567.00" x2="186.61" y2="567.00" stroke="#222" stroke-width="1"/>
<rect x="190.11" y="566.10" width="10.00" height="32.70" fill="#c0504d" stroke="#503030" stroke-width="0.6"/>
<line x1="195.11" y1="563.50" x2="195.11" y2="568.50" stroke="#222" stroke-width="1"/>
<line x1="193.01" y1="563.50" x2="197.21" y2="563.50" stroke="#222" stroke-width="1"/>
<line x1="193.01" y1="568.50" x2="197.21" y2="568.50" stroke="#222" stroke-width="1"/>
<text x="189.25" y="620.60" font-size="10.6" text-anchor="middle" fill="#222">24 h</text>
<rect x="215.78" y="538.71" width="10.00" height="60.09" fill="#4f81bd" stroke="#3a3a50" stroke-width="0.6"/>
<line x1="220.78" y1="532.20" x2="220.78" y2="544.80" stroke="#222" stroke-width="1"/>
<line x1="218.68" y1="532.20" x2="222.88" y2="532.20" stroke="#222" stroke-width="1"/>
<line x1="218.68" y1="544.80" x2="222.88" y2="544.80" stroke="#222" stroke-width="1"/>
<rect x="226.38" y="550.26" width="10.00" height="48.54" fill="#c0504d" stroke="#503030" stroke-width="0.6"/>
<line x1="231.38" y1="543.00" x2="231.38" y2="557.00" stroke="#222" stroke-width="1"/>
<line x1="229.28" y1="543.00" x2="233.48" y2="543.00" stroke="#222" stroke-width="1"/>
<line x1="229.28" y1="557.00" x2="233.48" y2="557.00" stroke="#222" stroke-width="1"/>
<text x="225.51" y="620.60" font-size="10.6" text-anchor="middle" fill="#222">48 h</text>
<rect x="252.05" y="518.25" width="10.00" height="80.55" fill="#4f81bd" stroke="#3a3a50" stroke-width="0.6"/>
<line x1="257.05" y1="513.30" x2="257.05" y2="522.50" stroke="#222" stroke-width="1"/>
<line x1="254.95" y1="513.30" x2="259.15" y2="513.30" stroke="#222" stroke-width="1"/>
<line x1="254.95" y1="522.50" x2="259.15" y2="522.50" stroke="#222" stroke-width="1"/>
<rect x="262.65" y="494.49" width="10.00" height="104.31" fill="#c0504d" stroke="#503030" stroke-width="0.6"/>
<line x1="267.65" y1="483.70" x2="267.65" y2="505.20" stroke="#222" stroke-width="1"/>
<line x1="265.55" y1="483.70" x2="269.75" y2="483.70" stroke="#222" stroke-width="1"/>
<line x1="265.55" y1="505.20" x2="269.75" y2="505.20" stroke="#222" stroke-width="1"/>
<text x="261.79" y="620.60" font-size="10.6" text-anchor="middle" fill="#222">72 h</text>
<rect x="288.32" y="566.10" width="10.00" height="32.70" fill="#4f81bd" stroke="#3a3a50" stroke-width="0.6"/>
<line x1="293.32" y1="561.70" x2="293.32" y2="570.10" stroke="#222" stroke-width="1"/>
<line x1="291.22" y1="561.70" x2="295.42" y2="561.70" stroke="#222" stroke-width="1"/>
<line x1="291.22" y1="570.10" x2="295.42" y2="570.10" stroke="#222" stroke-width="1"/>
<rect x="298.92" y="566.10" width="10.00" height="32.70" fill="#c0504d" stroke="#503030" stroke-width="0.6"/>
<line x1="303.92" y1="561.70" x2="303.92" y2="570.10" stroke="#222" stroke-width="1"/>
<line x1="301.82" y1="561.70" x2="306.02" y2="561.70" stroke="#222" stroke-width="1"/>
<line x1="301.82" y1="570.10" x2="306.02" y2="570.10" stroke="#222" stroke-width="1"/>
<text x="298.06" y="620.60" font-size="10.6" text-anchor="middle" fill="#222">24 h</text>
<rect x="324.59" y="525.84" width="10.00" height="72.96" fill="#4f81bd" stroke="#3a3a50" stroke-width="0.6"/>
<line x1="329.59" y1="518.20" x2="329.59" y2="535.00" stroke="#222" stroke-width="1"/>
<line x1="327.49" y1="518.20" x2="331.69" y2="518.20" stroke="#222" stroke-width="1"/>
<line x1="327.49" y1="535.00" x2="331.69" y2="535.00" stroke="#222" stroke-width="1"/>
<rect x="335.19" y="572.70" width="10.00" height="26.10" fill="#c0504d" stroke="#503030" stroke-width="0.6"/>
<line x1="340.19" y1="570.60" x2="340.19" y2="574.00" stroke="#222" stroke-width="1"/>
<line x1="338.09" y1="570.60" x2="342.29" y2="570.60" stroke="#222" stroke-width="1"/>
<line x1="338.09" y1="574.00" x2="342.29" y2="574.00" stroke="#222" stroke-width="1"/>
<text x="334.32" y="620.60" font-size="10.6" text-anchor="middle" fill="#222">48 h</text>
<rect x="360.86" y="525.84" width="10.00" height="72.96" fill="#4f81bd" stroke="#3a3a50" stroke-width="0.6"/>
<line x1="365.86" y1="519.00" x2="365.86" y2="532.00" stroke="#222" stroke-width="1"/>
<line x1="363.76" y1="519.00" x2="367.96" y2="519.00" stroke="#222" stroke-width="1"/>
<line x1="363.76" y1="532.00" x2="367.96" y2="532.00" stroke="#222" stroke-width="1"/>
<rect x="371.46" y="542.67" width="10.00" height="56.13" fill="#c0504d" stroke="#503030" stroke-width="0.6"/>
<line x1="376.46" y1="539.80" x2="376.46" y2="546.00" stroke="#222" stroke-width="1"/>
<line x1="374.36" y1="539.80" x2="378.56" y2="539.80" stroke="#222" stroke-width="1"/>
<line x1="374.36" y1="546.00" x2="378.56" y2="546.00" stroke="#222" stroke-width="1"/>
<text x="370.60" y="620.60" font-size="10.6" text-anchor="middle" fill="#222">72 h</text>
<text x="340.10" y="569.30" font-size="10" text-anchor="middle" font-weight="bold" fill="#000">*</text>
<text x="376.70" y="537.80" font-size="10" text-anchor="middle" font-weight="bold" fill="#000">*</text>
<text x="117.70" y="642.00" font-size="10.5" text-anchor="middle" fill="#000" stroke="#000" stroke-width="0.45">Karpas422</text>
<text x="226.00" y="642.00" font-size="10.5" text-anchor="middle" fill="#000" stroke="#000" stroke-width="0.45">Farage</text>
<text x="334.80" y="642.00" font-size="10.5" text-anchor="middle" fill="#000" stroke="#000" stroke-width="0.45">HBVP</text>
<text x="10.80" y="532.60" font-size="8.9" text-anchor="middle" fill="#000" transform="rotate(-90 10.8 532.6)" stroke="#000" stroke-width="0.2">Percent of Viable Cells</text>
<text x="23.00" y="531.60" font-size="9.1" text-anchor="middle" fill="#000" transform="rotate(-90 23.0 531.6)" stroke="#000" stroke-width="0.2">(normalized to siRNA NT at 24 h)</text>
<rect x="404.40" y="544.00" width="6.80" height="6.80" fill="#4f81bd" stroke="none" stroke-width="0"/>
<rect x="404.40" y="563.60" width="6.80" height="6.80" fill="#c0504d" stroke="none" stroke-width="0"/>
<text x="415.00" y="551.30" font-size="9.8" text-anchor="start" fill="#000" stroke="#000" stroke-width="0.3">siRNA NT</text>
<text x="415.00" y="569.60" font-size="9.8" text-anchor="start" fill="#000" stroke="#000" stroke-width="0.3">siRNA #1</text>
<text transform="translate(0.4 678.2) scale(0.93 1)" font-size="15.2" font-weight="bold">G</text>
<defs><filter id="gb1" x="-50%" y="-50%" width="200%" height="200%"><feGaussianBlur stdDeviation="0.9"/></filter><filter id="gb2" x="-50%" y="-50%" width="200%" height="200%"><feGaussianBlur stdDeviation="1.6"/></filter><filter id="gb0" x="-100%" y="-100%" width="300%" height="300%"><feGaussianBlur stdDeviation="0.35"/></filter></defs>
<rect x="46.20" y="666.70" width="119.60" height="119.80" fill="#030303" stroke="none" stroke-width="0"/>
<rect x="168.30" y="666.90" width="119.40" height="119.60" fill="#030303" stroke="none" stroke-width="0"/>
<polygon points="83,668 85.5,669.5 83,678 80,685 77,687.5 75.5,686 77.5,678 80.5,671" fill="#2fae5a" opacity="0.95" filter="url(#gb1)"/>
<circle cx="76.2" cy="686.8" r="1.2" fill="#9ad0a8" opacity="0.9" filter="url(#gb1)"/>
<polygon points="57.5,711 60,711.5 63.5,719 62.5,721.5 60,720" fill="#2fae5a" opacity="0.7" filter="url(#gb1)"/>
<polygon points="123.5,703 125.5,709.5 121.5,710.5" fill="#2fae5a" opacity="0.9" filter="url(#gb1)"/>
<polygon points="80.5,750.5 83,751 92.5,760.5 91.5,763.5 88.5,763" fill="#2fae5a" opacity="0.85" filter="url(#gb1)"/>
<circle cx="98.7" cy="742.5" r="1.6" fill="#2fae5a" opacity="0.75" filter="url(#gb1)"/>
<circle cx="160.4" cy="684.5" r="1.3" fill="#2fae5a" opacity="0.7" filter="url(#gb1)"/>
<circle cx="112.2" cy="764.3" r="1.9" fill="#2fae5a" opacity="0.95" filter="url(#gb1)"/>
<circle cx="113.3" cy="681.7" r="2.6" fill="#2a4a3a" opacity="0.8" filter="url(#gb2)"/>
<circle cx="100.4" cy="680.5" r="2" fill="#444" opacity="0.7" filter="url(#gb2)"/>
<circle cx="74.8" cy="719.8" r="1.8" fill="#444" opacity="0.6" filter="url(#gb2)"/>
<circle cx="95" cy="700" r="1.3" fill="#333" opacity="0.8" filter="url(#gb2)"/>
<circle cx="140" cy="690" r="1.3" fill="#333" opacity="0.8" filter="url(#gb2)"/>
<circle cx="150" cy="720" r="1.3" fill="#333" opacity="0.8" filter="url(#gb2)"/>
<circle cx="70" cy="740" r="1.3" fill="#333" opacity="0.8" filter="url(#gb2)"/>
<circle cx="135" cy="735" r="1.3" fill="#333" opacity="0.8" filter="url(#gb2)"/>
<circle cx="58" cy="760" r="1.3" fill="#333" opacity="0.8" filter="url(#gb2)"/>
<circle cx="150" cy="760" r="1.3" fill="#333" opacity="0.8" filter="url(#gb2)"/>
<circle cx="100" cy="725" r="1.3" fill="#333" opacity="0.8" filter="url(#gb2)"/>
<circle cx="101" cy="755.5" r="1.2" fill="#7a1a1a" opacity="1" filter="url(#gb1)"/>
<circle cx="104.5" cy="754.8" r="1.3" fill="#a04040" opacity="1" filter="url(#gb1)"/>
<circle cx="107.5" cy="755.2" r="1.2" fill="#902828" opacity="1" filter="url(#gb1)"/>
<circle cx="111" cy="755" r="1.1" fill="#802020" opacity="1" filter="url(#gb1)"/>
<circle cx="118.5" cy="755.4" r="1.2" fill="#802020" opacity="1" filter="url(#gb1)"/>
<circle cx="121.5" cy="754.4" r="1.1" fill="#7a2020" opacity="1" filter="url(#gb1)"/>
<circle cx="125" cy="753.6" r="1.4" fill="#904050" opacity="1" filter="url(#gb1)"/>
<circle cx="127.5" cy="751.6" r="1.5" fill="#a05060" opacity="1" filter="url(#gb1)"/>
<circle cx="130" cy="752.8" r="1.3" fill="#904858" opacity="1" filter="url(#gb1)"/>
<circle cx="132.8" cy="753.8" r="1.1" fill="#803030" opacity="1" filter="url(#gb1)"/>
<circle cx="126" cy="755.6" r="1.0" fill="#803030" opacity="1" filter="url(#gb1)"/>
<circle cx="135" cy="752" r="1.0" fill="#5a1a1a" opacity="1" filter="url(#gb1)"/>
<ellipse cx="114.6" cy="755.6" rx="1.9" ry="3.6" fill="#e84020" filter="url(#gb1)"/>
<circle cx="114.8" cy="756.5" r="1.0" fill="#ff9070" opacity="1" filter="url(#gb0)"/>
<line x1="110.40" y1="738.40" x2="112.60" y2="745.20" stroke="#fff" stroke-width="1.5"/>
<polygon points="113.60,749.80 109.60,743.60 115.20,742.80" fill="#fff"/>
<text x="48.60" y="682.60" font-size="16" text-anchor="start" fill="#fff" stroke="#fff" stroke-width="0.45">1</text>
<text x="163.80" y="677.70" font-size="11.2" text-anchor="end" fill="#fff" stroke="#fff" stroke-width="0.3">PBS</text>
<text x="48.30" y="774.60" font-size="10.4" text-anchor="start" font-weight="bold" fill="#22b05a" letter-spacing="0.6">NG2</text>
<text x="48.40" y="782.20" font-size="10" text-anchor="start" font-weight="bold" fill="#f02828">p-PDGFR&#946;</text>
<rect x="143.00" y="774.10" width="21.00" height="2.20" fill="#f0e020" stroke="none" stroke-width="0"/>
<circle cx="189.2" cy="685.3" r="2.2" fill="#2fae5a" opacity="0.95" filter="url(#gb1)"/>
<circle cx="202.4" cy="679.3" r="1.6" fill="#3a6a4a" opacity="0.9" filter="url(#gb1)"/>
<path d="M202,679 Q212,682 214,692" stroke="#444" stroke-width="1" fill="none" opacity="0.6"/>
<circle cx="274" cy="684" r="1.5" fill="#d03030" opacity="0.9" filter="url(#gb1)"/>
<circle cx="268.5" cy="707.5" r="1.7" fill="#2fae5a" opacity="0.85" filter="url(#gb1)"/>
<circle cx="254.2" cy="729.8" r="1.5" fill="#2fae5a" opacity="0.9" filter="url(#gb1)"/>
<circle cx="254.2" cy="734.5" r="1.5" fill="#2fae5a" opacity="0.9" filter="url(#gb1)"/>
<line x1="203" y1="770.3" x2="207" y2="769.5" stroke="#2fae5a" stroke-width="2.4" stroke-linecap="round" opacity="0.8" filter="url(#gb1)"/>
<circle cx="224" cy="770.5" r="1.6" fill="#2fae5a" opacity="0.8" filter="url(#gb1)"/>
<circle cx="189" cy="700" r="1.4" fill="#3a3a3a" opacity="0.8" filter="url(#gb2)"/>
<circle cx="193" cy="710" r="1.4" fill="#3a3a3a" opacity="0.8" filter="url(#gb2)"/>
<circle cx="200" cy="722" r="1.4" fill="#3a3a3a" opacity="0.8" filter="url(#gb2)"/>
<circle cx="212" cy="713" r="1.4" fill="#3a3a3a" opacity="0.8" filter="url(#gb2)"/>
<circle cx="226" cy="732" r="1.4" fill="#3a3a3a" opacity="0.8" filter="url(#gb2)"/>
<circle cx="238" cy="720" r="1.4" fill="#3a3a3a" opacity="0.8" filter="url(#gb2)"/>
<circle cx="246" cy="701" r="1.4" fill="#3a3a3a" opacity="0.8" filter="url(#gb2)"/>
<circle cx="258" cy="696" r="1.4" fill="#3a3a3a" opacity="0.8" filter="url(#gb2)"/>
<circle cx="276" cy="720" r="1.4" fill="#3a3a3a" opacity="0.8" filter="url(#gb2)"/>
<circle cx="280" cy="745" r="1.4" fill="#3a3a3a" opacity="0.8" filter="url(#gb2)"/>
<circle cx="238" cy="758" r="1.4" fill="#3a3a3a" opacity="0.8" filter="url(#gb2)"/>
<circle cx="195" cy="740" r="1.4" fill="#3a3a3a" opacity="0.8" filter="url(#gb2)"/>
<circle cx="214" cy="750" r="1.4" fill="#3a3a3a" opacity="0.8" filter="url(#gb2)"/>
<circle cx="262" cy="745" r="1.4" fill="#3a3a3a" opacity="0.8" filter="url(#gb2)"/>
<circle cx="185" cy="760" r="1.4" fill="#3a3a3a" opacity="0.8" filter="url(#gb2)"/>
<circle cx="270" cy="688" r="1.4" fill="#3a3a3a" opacity="0.8" filter="url(#gb2)"/>
<circle cx="230" cy="690" r="1.4" fill="#3a3a3a" opacity="0.8" filter="url(#gb2)"/>
<text transform="translate(169.9 682.8) scale(1.12 1)" font-size="16.2" fill="#fff" stroke="#fff" stroke-width="0.45">2</text>
<text x="285.60" y="677.70" font-size="11.8" text-anchor="end" fill="#fff" stroke="#fff" stroke-width="0.3">Imatinib</text>
<text x="170.50" y="774.60" font-size="10.4" text-anchor="start" font-weight="bold" fill="#22b05a" letter-spacing="0.6">NG2</text>
<text x="170.60" y="782.20" font-size="10" text-anchor="start" font-weight="bold" fill="#f02828">p-PDGFR&#946;</text>
<rect x="265.00" y="774.10" width="21.50" height="2.20" fill="#f0e020" stroke="none" stroke-width="0"/>
<circle cx="100.8" cy="728.5" r="1.5" fill="#202020" filter="url(#gb1)"/>
<circle cx="146.7" cy="698.9" r="1.4" fill="#202020" filter="url(#gb1)"/>
<circle cx="139.6" cy="691.2" r="1.0" fill="#242424" filter="url(#gb1)"/>
<circle cx="150.7" cy="734.5" r="1.3" fill="#202020" filter="url(#gb1)"/>
<circle cx="123.7" cy="732.9" r="0.9" fill="#242424" filter="url(#gb1)"/>
<line x1="56.4" y1="686.6" x2="56.2" y2="686.2" stroke="#363636" stroke-width="1.7" stroke-linecap="round" filter="url(#gb1)"/>
<line x1="145.2" y1="725.2" x2="142.7" y2="726.2" stroke="#202020" stroke-width="1.4" stroke-linecap="round" filter="url(#gb1)"/>
<circle cx="95.6" cy="727.8" r="1.5" fill="#242424" filter="url(#gb1)"/>
<circle cx="85.1" cy="702.1" r="1.0" fill="#242424" filter="url(#gb1)"/>
<circle cx="61.5" cy="692.3" r="1.0" fill="#242424" filter="url(#gb1)"/>
<circle cx="145.8" cy="683.7" r="1.0" fill="#242424" filter="url(#gb1)"/>
<circle cx="161.0" cy="715.5" r="0.9" fill="#2a2a2a" filter="url(#gb1)"/>
<circle cx="80.0" cy="690.7" r="1.1" fill="#202020" filter="url(#gb1)"/>
<circle cx="62.7" cy="703.4" r="0.9" fill="#242424" filter="url(#gb1)"/>
<line x1="104.7" y1="738.3" x2="106.1" y2="736.1" stroke="#363636" stroke-width="0.9" stroke-linecap="round" filter="url(#gb1)"/>
<line x1="122.6" y1="693.0" x2="124.8" y2="695.9" stroke="#2a2a2a" stroke-width="1.2" stroke-linecap="round" filter="url(#gb1)"/>
<circle cx="116.8" cy="763.5" r="0.8" fill="#2a2a2a" filter="url(#gb1)"/>
<line x1="146.6" y1="735.0" x2="145.1" y2="736.7" stroke="#2a2a2a" stroke-width="0.8" stroke-linecap="round" filter="url(#gb1)"/>
<line x1="86.7" y1="707.4" x2="87.5" y2="704.5" stroke="#242424" stroke-width="0.8" stroke-linecap="round" filter="url(#gb1)"/>
<circle cx="91.2" cy="733.5" r="0.9" fill="#363636" filter="url(#gb1)"/>
<circle cx="114.7" cy="753.0" r="0.9" fill="#2a2a2a" filter="url(#gb1)"/>
<circle cx="75.2" cy="732.5" r="1.4" fill="#2a2a2a" filter="url(#gb1)"/>
<circle cx="156.4" cy="699.4" r="1.6" fill="#202020" filter="url(#gb1)"/>
<line x1="97.2" y1="692.0" x2="98.5" y2="690.5" stroke="#303030" stroke-width="0.7" stroke-linecap="round" filter="url(#gb1)"/>
<circle cx="143.1" cy="731.4" r="1.0" fill="#2a2a2a" filter="url(#gb1)"/>
<circle cx="160.6" cy="693.8" r="1.2" fill="#363636" filter="url(#gb1)"/>
<line x1="81.1" y1="757.1" x2="80.6" y2="755.6" stroke="#242424" stroke-width="0.9" stroke-linecap="round" filter="url(#gb1)"/>
<line x1="54.5" y1="706.3" x2="52.3" y2="706.0" stroke="#2a2a2a" stroke-width="1.3" stroke-linecap="round" filter="url(#gb1)"/>
<circle cx="86.9" cy="742.3" r="1.2" fill="#2a2a2a" filter="url(#gb1)"/>
<circle cx="154.5" cy="721.7" r="1.1" fill="#303030" filter="url(#gb1)"/>
<circle cx="51.6" cy="734.6" r="1.2" fill="#303030" filter="url(#gb1)"/>
<circle cx="163.1" cy="689.7" r="1.2" fill="#242424" filter="url(#gb1)"/>
<circle cx="133.2" cy="740.0" r="1.4" fill="#303030" filter="url(#gb1)"/>
<circle cx="127.3" cy="755.8" r="1.5" fill="#202020" filter="url(#gb1)"/>
<circle cx="52.7" cy="723.7" r="0.8" fill="#202020" filter="url(#gb1)"/>
<circle cx="50.6" cy="689.5" r="0.9" fill="#242424" filter="url(#gb1)"/>
<circle cx="149.5" cy="742.0" r="1.1" fill="#363636" filter="url(#gb1)"/>
<line x1="101.9" y1="727.0" x2="102.5" y2="726.9" stroke="#363636" stroke-width="1.3" stroke-linecap="round" filter="url(#gb1)"/>
<circle cx="75.4" cy="739.6" r="1.2" fill="#363636" filter="url(#gb1)"/>
<circle cx="104.6" cy="755.4" r="1.1" fill="#2a2a2a" filter="url(#gb1)"/>
<circle cx="72.3" cy="697.3" r="1.5" fill="#202020" filter="url(#gb1)"/>
<circle cx="76.7" cy="716.1" r="1.0" fill="#202020" filter="url(#gb1)"/>
<circle cx="135.2" cy="699.7" r="1.0" fill="#2a2a2a" filter="url(#gb1)"/>
<circle cx="85.3" cy="694.6" r="1.2" fill="#242424" filter="url(#gb1)"/>
<circle cx="157.5" cy="705.8" r="0.9" fill="#202020" filter="url(#gb1)"/>
<circle cx="276.8" cy="750.4" r="1.1" fill="#363636" filter="url(#gb1)"/>
<circle cx="207.3" cy="751.0" r="1.6" fill="#202020" filter="url(#gb1)"/>
<circle cx="265.8" cy="706.1" r="1.3" fill="#303030" filter="url(#gb1)"/>
<circle cx="206.5" cy="747.2" r="0.8" fill="#2a2a2a" filter="url(#gb1)"/>
<circle cx="193.0" cy="745.4" r="1.0" fill="#2a2a2a" filter="url(#gb1)"/>
<circle cx="283.5" cy="693.1" r="0.9" fill="#363636" filter="url(#gb1)"/>
<circle cx="263.3" cy="760.6" r="1.3" fill="#2a2a2a" filter="url(#gb1)"/>
<circle cx="200.5" cy="741.0" r="1.4" fill="#363636" filter="url(#gb1)"/>
<circle cx="191.7" cy="705.7" r="1.1" fill="#363636" filter="url(#gb1)"/>
<line x1="284.9" y1="696.6" x2="287.5" y2="698.0" stroke="#2a2a2a" stroke-width="1.7" stroke-linecap="round" filter="url(#gb1)"/>
<circle cx="186.1" cy="720.2" r="1.3" fill="#242424" filter="url(#gb1)"/>
<circle cx="236.1" cy="754.2" r="1.4" fill="#303030" filter="url(#gb1)"/>
<line x1="245.6" y1="700.3" x2="248.0" y2="703.2" stroke="#242424" stroke-width="1.5" stroke-linecap="round" filter="url(#gb1)"/>
<line x1="282.7" y1="726.9" x2="284.0" y2="724.0" stroke="#303030" stroke-width="1.6" stroke-linecap="round" filter="url(#gb1)"/>
<circle cx="228.8" cy="686.9" r="1.1" fill="#202020" filter="url(#gb1)"/>
<circle cx="226.9" cy="686.2" r="1.4" fill="#242424" filter="url(#gb1)"/>
<circle cx="175.3" cy="726.5" r="1.3" fill="#2a2a2a" filter="url(#gb1)"/>
<circle cx="285.3" cy="755.9" r="1.2" fill="#202020" filter="url(#gb1)"/>
<circle cx="227.5" cy="759.8" r="0.9" fill="#2a2a2a" filter="url(#gb1)"/>
<circle cx="235.0" cy="750.4" r="1.2" fill="#2a2a2a" filter="url(#gb1)"/>
<circle cx="267.5" cy="728.7" r="1.0" fill="#202020" filter="url(#gb1)"/>
<circle cx="270.5" cy="732.7" r="1.0" fill="#2a2a2a" filter="url(#gb1)"/>
<line x1="231.1" y1="729.7" x2="228.1" y2="729.0" stroke="#363636" stroke-width="0.9" stroke-linecap="round" filter="url(#gb1)"/>
<circle cx="232.7" cy="687.4" r="1.5" fill="#363636" filter="url(#gb1)"/>
<circle cx="235.5" cy="723.2" r="1.4" fill="#242424" filter="url(#gb1)"/>
<line x1="223.6" y1="757.6" x2="223.5" y2="755.3" stroke="#202020" stroke-width="1.6" stroke-linecap="round" filter="url(#gb1)"/>
<circle cx="220.7" cy="749.2" r="1.5" fill="#202020" filter="url(#gb1)"/>
<line x1="183.7" y1="717.5" x2="185.4" y2="714.6" stroke="#303030" stroke-width="0.7" stroke-linecap="round" filter="url(#gb1)"/>
<circle cx="193.4" cy="702.1" r="1.3" fill="#303030" filter="url(#gb1)"/>
<line x1="199.2" y1="723.8" x2="199.2" y2="722.3" stroke="#363636" stroke-width="1.3" stroke-linecap="round" filter="url(#gb1)"/>
<circle cx="193.8" cy="726.3" r="1.1" fill="#202020" filter="url(#gb1)"/>
<circle cx="265.4" cy="733.2" r="1.2" fill="#363636" filter="url(#gb1)"/>
<line x1="231.7" y1="752.0" x2="233.1" y2="753.9" stroke="#2a2a2a" stroke-width="1.4" stroke-linecap="round" filter="url(#gb1)"/>
<line x1="274.2" y1="709.2" x2="277.2" y2="711.5" stroke="#2a2a2a" stroke-width="1.1" stroke-linecap="round" filter="url(#gb1)"/>
<circle cx="186.6" cy="703.0" r="1.4" fill="#303030" filter="url(#gb1)"/>
<line x1="220.9" y1="759.2" x2="221.6" y2="761.0" stroke="#2a2a2a" stroke-width="1.3" stroke-linecap="round" filter="url(#gb1)"/>
<line x1="182.3" y1="729.5" x2="182.3" y2="731.0" stroke="#303030" stroke-width="1.1" stroke-linecap="round" filter="url(#gb1)"/>
<circle cx="228.6" cy="738.8" r="1.0" fill="#242424" filter="url(#gb1)"/>
<circle cx="174.1" cy="744.9" r="1.3" fill="#363636" filter="url(#gb1)"/>
<circle cx="192.9" cy="693.1" r="0.9" fill="#2a2a2a" filter="url(#gb1)"/>
<line x1="277.0" y1="691.5" x2="274.5" y2="690.9" stroke="#202020" stroke-width="0.8" stroke-linecap="round" filter="url(#gb1)"/>
<line x1="219.9" y1="712.3" x2="221.1" y2="714.3" stroke="#303030" stroke-width="0.9" stroke-linecap="round" filter="url(#gb1)"/>
<circle cx="192.0" cy="720.2" r="1.4" fill="#202020" filter="url(#gb1)"/>
<circle cx="240.3" cy="691.5" r="1.4" fill="#303030" filter="url(#gb1)"/>
<circle cx="262.7" cy="740.3" r="1.5" fill="#202020" filter="url(#gb1)"/>
<line x1="193.1" y1="730.7" x2="190.8" y2="732.1" stroke="#303030" stroke-width="1.1" stroke-linecap="round" filter="url(#gb1)"/>
<circle cx="189.5" cy="758.6" r="0.9" fill="#303030" filter="url(#gb1)"/>
<line x1="250.5" y1="745.3" x2="248.6" y2="747.1" stroke="#202020" stroke-width="1.6" stroke-linecap="round" filter="url(#gb1)"/>
<line x1="205.7" y1="692.0" x2="204.3" y2="694.7" stroke="#363636" stroke-width="1.7" stroke-linecap="round" filter="url(#gb1)"/>
<circle cx="205.4" cy="701.2" r="1.1" fill="#2a2a2a" filter="url(#gb1)"/>
<circle cx="215.7" cy="763.9" r="1.3" fill="#242424" filter="url(#gb1)"/>
<line x1="283.0" y1="685.7" x2="282.4" y2="683.0" stroke="#2a2a2a" stroke-width="1.4" stroke-linecap="round" filter="url(#gb1)"/>
<line x1="193.6" y1="714.0" x2="192.6" y2="714.2" stroke="#303030" stroke-width="0.8" stroke-linecap="round" filter="url(#gb1)"/>
<circle cx="218.7" cy="725.6" r="1.5" fill="#242424" filter="url(#gb1)"/>
<circle cx="263.6" cy="690.0" r="1.3" fill="#242424" filter="url(#gb1)"/>
<circle cx="278.3" cy="714.8" r="1.6" fill="#202020" filter="url(#gb1)"/>
<circle cx="239.3" cy="718.3" r="1.2" fill="#303030" filter="url(#gb1)"/>
<circle cx="239.5" cy="713.1" r="1.0" fill="#303030" filter="url(#gb1)"/>
<circle cx="203.6" cy="741.2" r="1.0" fill="#242424" filter="url(#gb1)"/>
<line x1="238.1" y1="734.5" x2="237.0" y2="733.9" stroke="#202020" stroke-width="1.2" stroke-linecap="round" filter="url(#gb1)"/>
<circle cx="237.6" cy="741.7" r="1.1" fill="#2a2a2a" filter="url(#gb1)"/>
<line x1="225.7" y1="761.8" x2="227.6" y2="764.2" stroke="#363636" stroke-width="1.0" stroke-linecap="round" filter="url(#gb1)"/>
<line x1="187.8" y1="760.7" x2="187.3" y2="758.4" stroke="#242424" stroke-width="1.0" stroke-linecap="round" filter="url(#gb1)"/>
<circle cx="269.5" cy="712.4" r="0.9" fill="#303030" filter="url(#gb1)"/>
<circle cx="247.4" cy="720.3" r="1.0" fill="#363636" filter="url(#gb1)"/>
<circle cx="212.8" cy="743.4" r="1.5" fill="#2a2a2a" filter="url(#gb1)"/>
<circle cx="255.0" cy="703.0" r="0.9" fill="#303030" filter="url(#gb1)"/>
<circle cx="242.5" cy="712.6" r="1.0" fill="#363636" filter="url(#gb1)"/>
<circle cx="193.0" cy="706.2" r="1.0" fill="#2a2a2a" filter="url(#gb1)"/>
<line x1="245.7" y1="699.6" x2="244.3" y2="696.7" stroke="#242424" stroke-width="1.5" stroke-linecap="round" filter="url(#gb1)"/>
<text x="308.80" y="680.10" font-size="16.6" text-anchor="start" fill="#000">3</text>
<line x1="322.40" y1="685.70" x2="322.40" y2="779.60" stroke="#222" stroke-width="1"/>
<line x1="322.40" y1="779.60" x2="437.00" y2="779.60" stroke="#222" stroke-width="1.5"/>
<line x1="320.40" y1="779.60" x2="322.40" y2="779.60" stroke="#222" stroke-width="0.8"/>
<text x="320.00" y="781.80" font-size="6" text-anchor="end" fill="#111" stroke="#111" stroke-width="0.25">0</text>
<line x1="320.40" y1="766.27" x2="322.40" y2="766.27" stroke="#222" stroke-width="0.8"/>
<text x="320.00" y="768.47" font-size="6" text-anchor="end" fill="#111" stroke="#111" stroke-width="0.25">20</text>
<line x1="320.40" y1="752.94" x2="322.40" y2="752.94" stroke="#222" stroke-width="0.8"/>
<text x="320.00" y="755.14" font-size="6" text-anchor="end" fill="#111" stroke="#111" stroke-width="0.25">40</text>
<line x1="320.40" y1="739.61" x2="322.40" y2="739.61" stroke="#222" stroke-width="0.8"/>
<text x="320.00" y="741.81" font-size="6" text-anchor="end" fill="#111" stroke="#111" stroke-width="0.25">60</text>
<line x1="320.40" y1="726.28" x2="322.40" y2="726.28" stroke="#222" stroke-width="0.8"/>
<text x="320.00" y="728.48" font-size="6" text-anchor="end" fill="#111" stroke="#111" stroke-width="0.25">80</text>
<line x1="320.40" y1="712.95" x2="322.40" y2="712.95" stroke="#222" stroke-width="0.8"/>
<text x="320.00" y="715.15" font-size="6" text-anchor="end" fill="#111" stroke="#111" stroke-width="0.25">100</text>
<line x1="320.40" y1="699.62" x2="322.40" y2="699.62" stroke="#222" stroke-width="0.8"/>
<text x="320.00" y="701.82" font-size="6" text-anchor="end" fill="#111" stroke="#111" stroke-width="0.25">120</text>
<line x1="320.40" y1="686.29" x2="322.40" y2="686.29" stroke="#222" stroke-width="0.8"/>
<text x="320.00" y="688.49" font-size="6" text-anchor="end" fill="#111" stroke="#111" stroke-width="0.25">140</text>
<text x="303.80" y="732.00" font-size="5.8" text-anchor="middle" fill="#000" transform="rotate(-90 303.8 732)" stroke="#000" stroke-width="0.2">Normalized p-PDGFR&#946;<tspan font-size="4" dy="-1.5">+</tspan><tspan dy="1.5"> Area Density (%)</tspan></text>
<rect x="336.60" y="712.80" width="29.00" height="66.80" fill="#ee2222" stroke="#8a1010" stroke-width="0.8"/>
<line x1="351.10" y1="712.40" x2="351.10" y2="691.50" stroke="#444" stroke-width="1.1"/>
<line x1="347.80" y1="691.50" x2="354.40" y2="691.50" stroke="#444" stroke-width="1.2"/>
<rect x="394.40" y="769.60" width="28.80" height="10.00" fill="#ee2222" stroke="#8a1010" stroke-width="0.8"/>
<line x1="408.60" y1="769.20" x2="408.60" y2="764.50" stroke="#333" stroke-width="1.1"/>
<line x1="405.40" y1="764.50" x2="411.80" y2="764.50" stroke="#333" stroke-width="1.2"/>
<text x="408.20" y="765.60" font-size="13" text-anchor="middle" font-weight="bold" fill="#000">*</text>
<text x="351.40" y="789.60" font-size="10.4" text-anchor="middle" fill="#000" stroke="#000" stroke-width="0.2">PBS</text>
<text x="408.20" y="789.60" font-size="9.9" text-anchor="middle" fill="#000" stroke="#000" stroke-width="0.2">Imatinib</text>
</svg></body></html>
